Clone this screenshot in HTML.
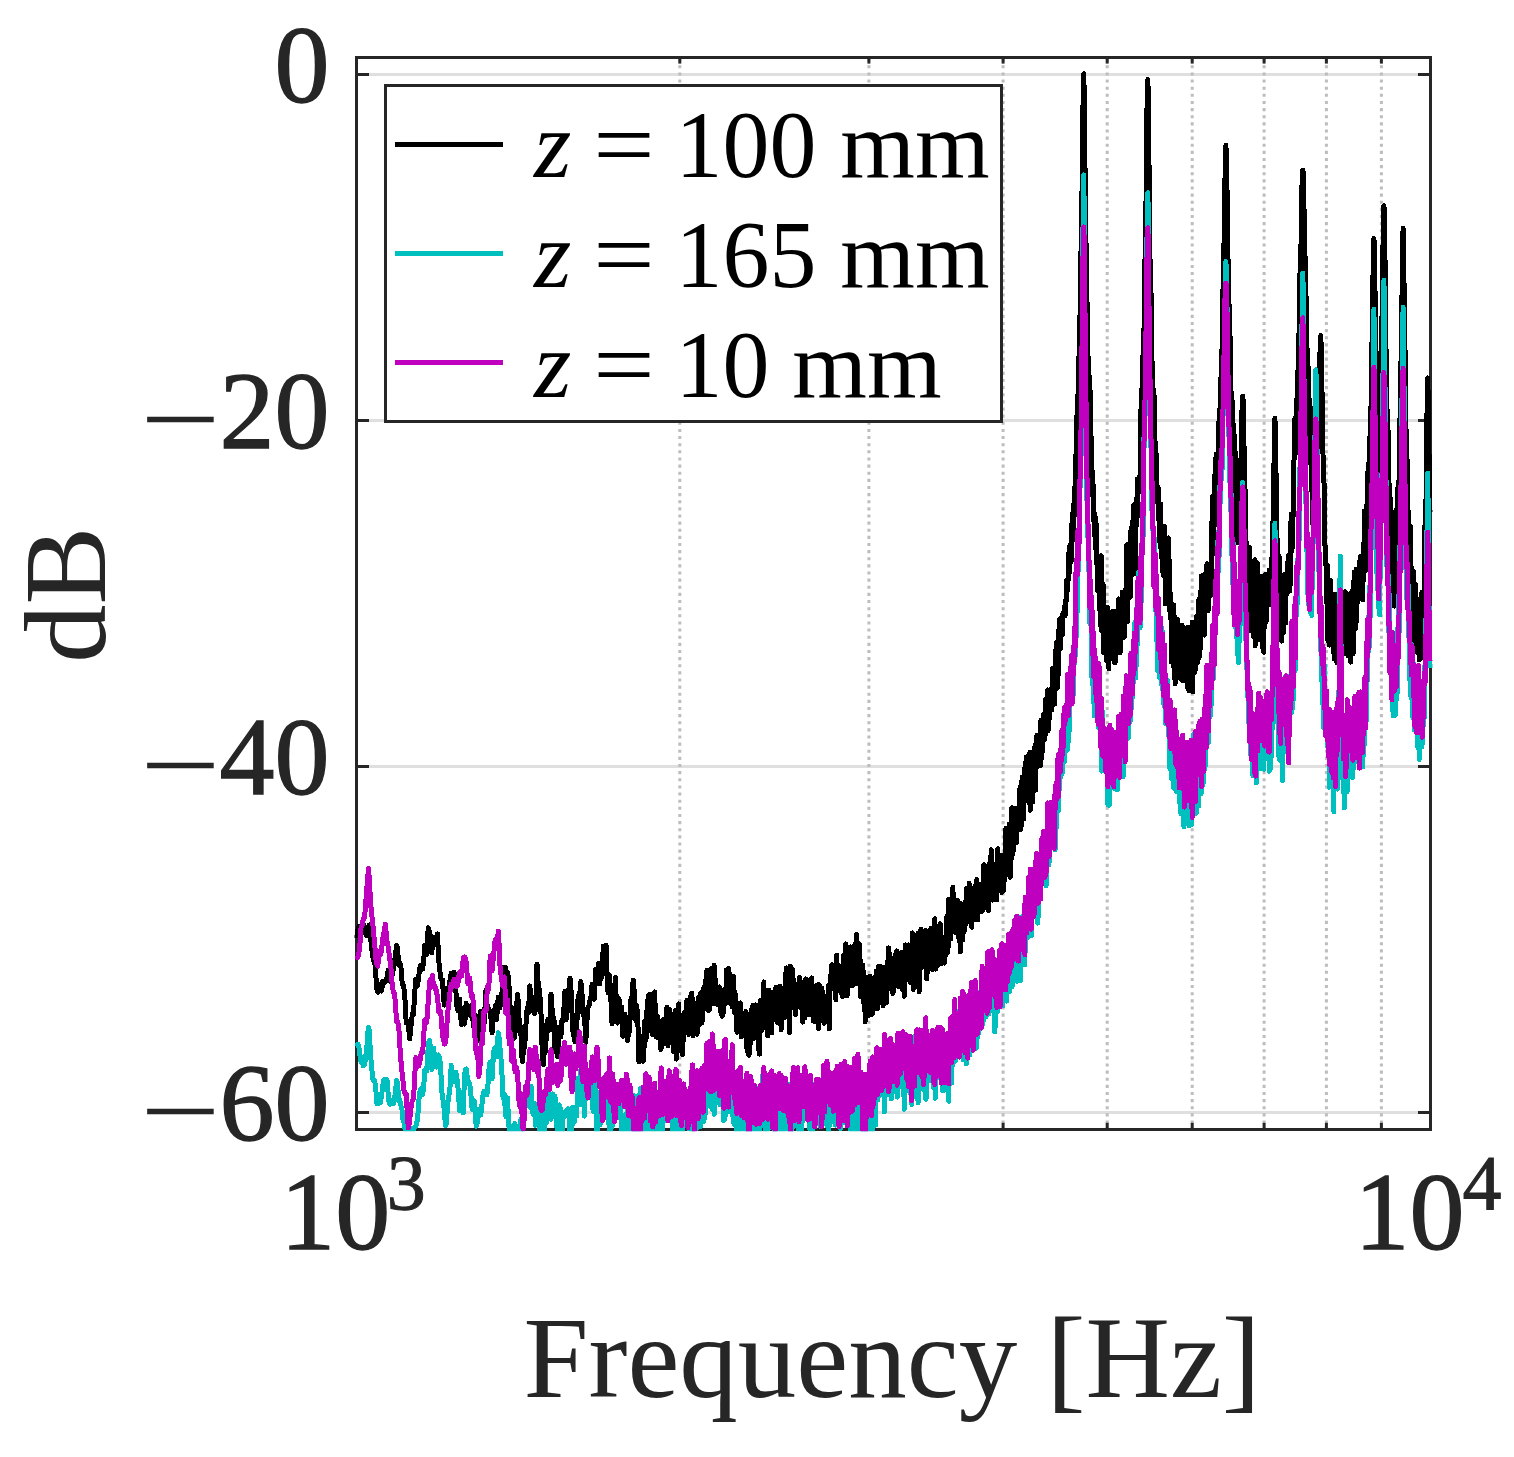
<!DOCTYPE html>
<html lang="en"><head><meta charset="utf-8"><title>Frequency response</title>
<style>html,body{margin:0;padding:0;background:#fff}svg{display:block}text{font-family:"Liberation Serif","DejaVu Serif",serif}</style></head>
<body>
<svg width="1514" height="1457" viewBox="0 0 1514 1457">
<rect x="0" y="0" width="1514" height="1457" fill="#ffffff"/>
<g stroke="#dfdfdf" stroke-width="3" fill="none">
<line x1="356.5" y1="74.5" x2="1430.5" y2="74.5"/>
<line x1="356.5" y1="420.5" x2="1430.5" y2="420.5"/>
<line x1="356.5" y1="766.5" x2="1430.5" y2="766.5"/>
<line x1="356.5" y1="1112.5" x2="1430.5" y2="1112.5"/>
</g>
<g stroke="#bdbdbd" stroke-width="3" stroke-dasharray="3.1 4.03" stroke-dashoffset="6.51" fill="none">
<line x1="679.8" y1="57.5" x2="679.8" y2="1129.5"/>
<line x1="868.9" y1="57.5" x2="868.9" y2="1129.5"/>
<line x1="1003.1" y1="57.5" x2="1003.1" y2="1129.5"/>
<line x1="1107.2" y1="57.5" x2="1107.2" y2="1129.5"/>
<line x1="1192.2" y1="57.5" x2="1192.2" y2="1129.5"/>
<line x1="1264.1" y1="57.5" x2="1264.1" y2="1129.5"/>
<line x1="1326.4" y1="57.5" x2="1326.4" y2="1129.5"/>
<line x1="1381.4" y1="57.5" x2="1381.4" y2="1129.5"/>
</g>
<g stroke="#262626" stroke-width="3" fill="none">
<line x1="356.5" y1="74.5" x2="369" y2="74.5"/>
<line x1="1430.5" y1="74.5" x2="1418" y2="74.5"/>
<line x1="356.5" y1="420.5" x2="369" y2="420.5"/>
<line x1="1430.5" y1="420.5" x2="1418" y2="420.5"/>
<line x1="356.5" y1="766.5" x2="369" y2="766.5"/>
<line x1="1430.5" y1="766.5" x2="1418" y2="766.5"/>
<line x1="356.5" y1="1112.5" x2="369" y2="1112.5"/>
<line x1="1430.5" y1="1112.5" x2="1418" y2="1112.5"/>
<line x1="679.8" y1="57.5" x2="679.8" y2="63.6"/>
<line x1="679.8" y1="1129.5" x2="679.8" y2="1122.8"/>
<line x1="868.9" y1="57.5" x2="868.9" y2="63.6"/>
<line x1="868.9" y1="1129.5" x2="868.9" y2="1122.8"/>
<line x1="1003.1" y1="57.5" x2="1003.1" y2="63.6"/>
<line x1="1003.1" y1="1129.5" x2="1003.1" y2="1122.8"/>
<line x1="1107.2" y1="57.5" x2="1107.2" y2="63.6"/>
<line x1="1107.2" y1="1129.5" x2="1107.2" y2="1122.8"/>
<line x1="1192.2" y1="57.5" x2="1192.2" y2="63.6"/>
<line x1="1192.2" y1="1129.5" x2="1192.2" y2="1122.8"/>
<line x1="1264.1" y1="57.5" x2="1264.1" y2="63.6"/>
<line x1="1264.1" y1="1129.5" x2="1264.1" y2="1122.8"/>
<line x1="1326.4" y1="57.5" x2="1326.4" y2="63.6"/>
<line x1="1326.4" y1="1129.5" x2="1326.4" y2="1122.8"/>
<line x1="1381.4" y1="57.5" x2="1381.4" y2="63.6"/>
<line x1="1381.4" y1="1129.5" x2="1381.4" y2="1122.8"/>
</g>
<rect x="356.5" y="57.5" width="1074.0" height="1072.0" fill="none" stroke="#262626" stroke-width="3"/>
<defs><clipPath id="ax"><rect x="354.5" y="57.5" width="1078.0" height="1073.7"/></clipPath></defs>
<g clip-path="url(#ax)" shape-rendering="crispEdges" fill="none" stroke-width="5" stroke-linejoin="round" stroke-linecap="butt">
<path stroke="#000000" d="M356.5,938.2 357.7,931.0 358.8,926.7 360.0,933.6 361.1,932.4 362.3,926.5 363.0,925.7 363.4,924.3 364.6,931.3 365.7,934.2 366.9,935.8 368.0,927.9 369.2,925.0 369.6,925.2 370.3,933.5 371.4,946.4 372.5,954.8 373.7,961.0 374.8,962.4 375.9,977.0 377.0,989.6 377.8,992.3 379.3,984.0 380.4,990.1 381.5,990.9 382.0,988.1 382.6,981.4 383.7,981.8 384.8,982.7 385.9,979.6 387.0,979.9 388.1,970.1 389.1,969.9 390.2,976.4 391.0,982.3 392.4,973.2 393.5,969.4 394.6,961.6 395.6,953.8 396.7,945.3 397.4,947.6 397.8,952.8 398.8,964.5 399.9,962.4 401.0,967.6 402.0,981.2 403.1,986.1 403.5,985.5 404.1,989.4 405.2,1002.0 406.2,1023.0 407.3,1021.4 408.3,1026.7 409.4,1034.2 409.7,1038.8 410.4,1032.2 411.4,1021.5 412.5,1013.5 413.5,1014.1 414.5,997.3 415.6,979.5 415.9,979.3 416.6,983.2 417.6,985.4 418.6,977.5 419.7,968.3 420.7,965.1 421.7,967.4 422.7,968.9 423.7,960.8 424.7,945.3 425.7,953.7 426.7,954.8 427.7,936.1 428.2,927.7 428.7,929.5 429.7,932.4 430.7,937.7 431.7,953.0 432.7,943.5 433.4,938.0 434.7,944.0 435.7,944.3 436.7,937.0 437.5,933.9 438.6,958.9 439.6,968.9 440.6,976.9 441.0,978.9 441.5,979.3 442.5,979.8 443.5,997.0 444.4,1005.2 445.4,995.3 446.4,988.7 447.3,996.3 448.3,994.5 449.0,989.4 450.2,978.0 451.2,973.2 452.1,974.0 453.0,978.0 454.0,972.2 455.0,976.2 455.9,990.7 456.8,1006.0 457.8,1010.5 458.7,1006.3 459.6,999.1 460.6,1015.3 461.5,1025.0 462.4,1016.8 463.2,1014.2 464.3,1024.1 465.2,1019.2 466.1,1003.2 467.1,1007.9 468.0,1011.6 468.9,1014.2 469.8,1015.3 470.7,1006.3 471.6,1005.0 472.6,1019.7 473.0,1020.5 473.5,1023.5 474.4,1031.2 475.3,1025.2 476.2,1015.6 477.1,1029.8 478.0,1040.4 478.7,1036.2 479.8,1021.9 480.7,1011.1 481.6,1015.9 482.4,1028.7 483.3,1025.1 484.2,1023.2 485.1,1005.1 485.9,990.5 486.9,1003.5 487.8,1006.7 488.6,1008.6 489.5,1010.8 490.4,1014.5 491.3,1021.7 492.1,1033.1 493.0,1017.8 493.9,1010.9 494.7,1010.2 495.6,1005.6 496.5,1019.6 497.3,1010.5 498.2,997.1 499.1,1002.4 499.9,1008.1 500.8,1001.2 501.6,994.8 502.5,988.9 503.3,980.6 504.2,967.1 505.0,967.1 505.4,967.6 505.9,978.7 506.7,978.0 507.6,972.5 508.4,978.6 509.3,989.5 510.0,1004.5 510.9,1017.7 511.8,1008.1 512.6,1020.6 513.4,1039.2 514.3,1037.5 514.7,1033.1 515.1,1020.8 515.9,1014.4 516.8,1003.2 517.6,994.6 518.4,1003.5 519.2,1022.4 520.1,1033.9 520.9,1027.0 521.7,1046.4 522.0,1058.1 522.5,1061.8 523.3,1051.8 524.1,1048.1 525.0,1040.8 525.8,1028.3 526.6,1012.9 527.4,1007.7 528.2,1012.9 529.0,1001.2 529.8,985.8 530.6,993.9 531.2,998.6 532.2,1004.8 533.0,1005.7 533.8,1012.0 534.6,1013.9 535.0,1010.8 535.4,1011.1 536.2,990.9 537.0,964.2 537.8,978.3 538.4,985.3 539.4,990.0 540.1,998.2 540.9,1010.8 541.7,1033.1 542.5,1062.7 543.3,1064.5 544.1,1049.4 544.8,1053.1 545.6,1049.9 546.4,1032.4 547.2,1020.6 547.9,1019.5 548.7,1025.1 549.5,1030.3 550.3,1013.1 551.0,994.2 551.8,1003.7 552.6,1020.3 553.3,1017.0 554.1,1020.8 554.9,1048.2 555.6,1051.5 555.9,1045.9 556.4,1037.7 557.1,1042.7 557.9,1057.1 558.7,1037.6 559.4,1027.0 560.2,1035.7 560.9,1036.8 561.7,1021.7 562.4,1019.3 563.0,1021.3 563.9,1010.4 564.7,991.5 565.4,1011.9 566.2,1019.7 566.9,1002.0 567.6,990.1 568.4,999.7 569.1,997.0 569.9,978.0 570.3,979.3 570.6,982.8 571.3,994.9 572.1,1015.1 572.8,1031.5 573.5,1031.8 574.3,1040.1 575.0,1041.6 575.7,1040.0 576.5,1027.8 577.2,1017.0 577.9,999.9 578.5,995.0 579.4,1004.0 580.1,989.3 580.8,981.6 581.5,986.3 582.2,997.4 583.0,1014.1 583.7,1016.3 584.4,1010.7 585.1,1028.6 585.8,1042.4 586.5,1027.8 586.8,1022.1 587.2,1017.8 588.0,1007.6 588.7,1005.9 589.4,1005.2 590.1,999.2 590.8,999.3 591.5,988.1 592.2,984.1 592.9,991.1 593.6,996.6 594.3,999.2 595.0,986.8 595.7,969.4 596.4,973.1 597.1,982.8 597.8,972.8 598.5,963.1 599.2,982.0 599.9,983.9 600.6,966.3 601.3,966.1 601.9,977.4 602.6,961.7 603.3,946.0 604.0,961.5 604.7,968.9 605.4,950.8 606.1,945.0 606.3,948.1 606.7,967.6 607.4,985.2 608.1,992.8 608.8,987.8 609.5,975.0 610.1,984.1 610.8,993.8 611.5,1019.8 612.2,1023.7 612.8,1005.5 613.5,1006.0 614.2,1016.3 614.8,998.8 615.5,977.5 616.2,1000.3 616.9,1019.5 617.5,1023.0 618.2,1016.3 618.9,998.7 619.5,1001.8 620.0,1015.7 620.8,1013.5 621.5,1006.8 622.2,1022.0 622.8,1036.3 623.5,1024.1 624.1,1019.5 624.8,1014.2 625.5,1018.7 625.9,1026.5 626.8,1031.7 627.4,1040.6 628.1,1036.6 628.7,1035.1 629.4,1030.4 630.0,1020.2 630.7,1001.4 631.3,997.8 632.0,1004.0 632.6,994.8 633.1,979.9 633.9,987.2 634.5,995.0 635.2,1013.0 635.8,1020.7 636.5,1004.9 637.1,1009.3 637.7,1016.2 638.4,1039.6 639.0,1062.1 639.6,1058.4 640.3,1051.4 640.9,1039.4 641.5,1036.3 642.2,1041.2 642.4,1048.2 642.8,1052.5 643.4,1061.3 644.1,1045.6 644.7,1020.7 645.3,1033.1 646.0,1040.5 646.6,1018.4 647.2,1006.3 647.8,1000.2 648.5,995.8 649.1,998.5 649.7,994.5 650.0,994.3 650.3,996.5 650.9,1014.9 651.6,1030.8 652.2,1034.2 652.8,1023.2 653.4,1006.3 654.0,995.8 654.7,991.8 655.3,1012.7 655.9,1036.8 656.5,1019.8 657.1,1015.5 657.7,1034.2 658.3,1038.0 658.9,1025.2 659.5,1027.0 660.2,1043.1 660.8,1049.6 661.4,1047.3 662.0,1032.4 662.6,1019.8 663.2,1034.7 663.8,1035.3 664.4,1019.1 665.0,1022.2 665.6,1043.8 666.2,1032.2 666.8,1007.3 667.4,1033.6 668.0,1046.1 668.6,1020.3 669.2,1009.3 669.8,1011.3 670.4,1020.3 671.0,1040.7 671.6,1030.4 672.2,1016.0 672.8,1034.4 673.3,1051.5 673.9,1031.9 674.5,1019.1 675.1,1010.7 675.7,1022.9 676.3,1059.1 676.9,1051.6 677.5,1035.4 678.1,1017.1 678.6,1004.0 679.2,1023.8 679.8,1029.3 680.4,1015.6 681.0,1024.1 681.6,1049.4 682.1,1053.1 682.7,1054.5 683.3,1030.0 683.9,1013.3 684.4,1024.9 685.0,1030.2 685.6,1016.0 686.2,1007.2 686.8,1000.4 687.3,1004.0 687.9,1007.6 688.5,1022.6 689.0,1034.5 689.6,1014.0 690.2,997.0 690.8,995.9 691.3,995.4 691.9,993.2 692.5,1010.9 693.0,1035.9 693.6,1016.6 694.2,1010.0 694.7,1028.5 695.3,1031.1 695.9,1016.0 696.4,1016.3 697.0,1034.2 697.5,1019.8 698.1,997.7 698.7,1013.1 699.2,1025.4 699.8,1004.8 700.3,993.6 700.9,992.8 701.5,1005.6 702.0,1022.8 702.6,1005.5 703.1,988.8 703.7,998.3 704.2,1009.1 704.8,987.6 705.3,980.7 705.9,983.1 706.4,979.4 707.0,970.4 707.5,985.1 708.1,1009.2 708.6,1010.5 709.2,1006.1 709.7,1009.6 710.3,1002.8 710.8,976.1 711.4,968.3 711.9,978.2 712.5,989.0 713.0,1004.1 713.5,984.9 714.1,965.1 714.6,986.2 715.2,996.1 715.7,980.3 716.2,988.2 716.8,1004.1 717.3,1004.4 717.9,1002.0 718.4,995.4 718.9,991.4 719.5,987.0 720.0,991.5 720.5,1006.3 721.1,1014.0 721.6,1010.8 722.1,1016.4 722.7,1012.5 723.2,1013.0 723.7,1010.1 724.3,989.4 724.8,989.2 725.3,1003.8 725.8,997.7 726.4,970.2 726.9,982.9 727.4,1002.8 728.0,981.6 728.5,968.5 729.0,972.2 729.5,979.5 730.1,1003.4 730.6,994.9 731.1,978.2 731.6,988.0 732.1,1007.1 732.7,987.3 733.2,976.1 733.7,983.3 734.2,993.8 734.7,1013.3 735.3,1011.4 735.8,995.4 736.3,1008.6 736.8,1031.4 737.3,1032.3 737.8,1023.2 738.4,1005.7 738.9,1006.2 739.4,1030.2 739.9,1024.3 740.4,1002.9 740.9,1013.6 741.4,1036.7 741.9,1028.6 742.5,1018.4 743.0,1028.3 743.5,1034.3 744.0,1019.0 744.5,1017.0 745.0,1034.9 745.5,1027.6 746.0,1011.5 746.5,1034.0 747.0,1048.6 747.5,1049.0 748.0,1053.0 748.5,1054.5 749.0,1055.1 749.5,1050.6 750.0,1044.6 750.5,1041.2 751.0,1018.5 751.5,1009.3 752.0,1024.0 752.5,1027.7 753.0,1005.0 753.5,1014.3 754.0,1038.4 754.5,1024.3 755.0,1005.3 755.5,1004.9 756.0,1010.4 756.5,1024.1 757.0,1030.1 757.5,1012.7 758.0,1017.4 758.5,1042.9 759.0,1050.6 759.5,1054.1 760.0,1020.3 760.5,1000.4 760.9,1023.8 761.4,1030.4 761.9,1003.6 762.4,1008.7 762.9,1027.6 763.4,1008.1 763.9,981.9 764.4,1009.0 764.8,1026.6 765.3,1006.1 765.8,994.8 766.3,996.3 766.8,1008.2 767.3,1031.7 767.8,1035.9 768.2,1030.4 768.7,1004.5 769.2,990.3 769.7,1014.1 770.2,1016.2 770.6,997.4 771.1,1007.6 771.6,1032.9 772.1,1020.2 772.6,997.3 773.0,1013.4 773.5,1015.9 774.0,996.7 774.5,991.7 774.9,1015.5 775.4,1011.3 775.9,986.9 776.4,990.9 776.8,1003.6 777.3,1016.4 777.8,1023.0 778.3,1003.0 778.7,1000.3 779.2,1009.0 779.7,1003.2 780.1,986.1 780.6,1005.3 781.1,1030.0 781.5,1010.8 782.0,996.8 782.5,1008.8 783.0,1012.6 783.4,992.5 783.9,997.4 784.4,1017.7 784.8,1008.0 785.3,991.3 785.7,980.5 786.2,967.9 786.7,973.7 787.1,985.4 787.6,1006.6 788.1,1009.7 788.5,987.3 789.0,1007.8 789.5,1032.7 789.9,994.5 790.4,966.2 790.8,977.5 791.3,977.3 791.8,978.6 792.2,977.0 792.7,969.6 793.1,980.3 793.6,982.6 794.0,981.9 794.5,984.1 794.9,1008.5 795.4,1014.4 795.9,993.7 796.3,992.6 796.8,1006.9 797.2,999.9 797.7,984.3 798.1,999.0 798.6,1005.3 799.0,982.5 799.5,977.3 799.9,998.6 800.4,1007.6 800.8,1007.2 801.3,989.4 801.7,982.1 802.2,1007.6 802.6,1022.1 803.1,990.5 803.5,985.2 804.0,1002.5 804.4,1012.3 804.9,1018.1 805.3,996.7 805.8,978.8 806.2,1000.4 806.7,1011.7 807.1,998.8 807.6,988.9 808.0,980.3 808.5,993.7 808.9,1014.6 809.4,998.1 809.8,981.9 810.3,996.9 810.7,1000.8 811.2,980.9 811.6,977.9 812.1,984.7 812.5,997.6 813.0,1009.4 813.4,1021.1 813.9,1019.5 814.3,995.2 814.8,1002.3 815.2,1021.4 815.7,1006.0 816.1,990.3 816.6,1014.7 817.0,1017.2 817.5,985.0 817.9,996.7 818.4,1028.5 818.8,1004.3 819.3,984.7 819.7,1003.3 820.2,1004.9 820.6,998.9 821.1,993.6 821.5,987.8 822.0,1002.9 822.4,1013.8 822.9,991.8 823.3,999.0 823.8,1022.3 824.2,1023.3 824.7,1013.4 825.1,1001.7 825.6,999.2 826.0,1010.6 826.5,1016.2 826.9,1017.0 827.4,1017.0 827.8,1013.9 828.3,985.7 828.7,998.7 829.2,1029.1 829.6,1007.1 830.1,987.9 830.5,980.6 831.0,974.1 831.4,966.2 831.9,964.9 832.3,968.5 832.8,971.3 833.2,979.8 833.7,988.8 834.1,982.8 834.6,973.2 835.0,971.5 835.5,977.5 835.9,999.6 836.4,974.3 836.8,955.0 837.3,985.9 837.7,990.2 838.2,965.0 838.6,976.2 839.1,986.3 839.5,974.8 840.0,972.1 840.4,988.3 840.9,992.4 841.3,992.8 841.8,992.4 842.2,992.3 842.7,996.6 843.1,968.7 843.6,955.1 844.0,984.2 844.5,992.1 844.9,981.9 845.4,957.2 845.8,943.8 846.3,947.1 846.7,967.7 847.2,995.9 847.6,966.6 848.1,957.7 848.5,984.7 849.0,981.8 849.4,976.9 849.9,986.0 850.3,968.4 850.8,946.9 851.2,963.2 851.7,973.0 852.1,949.0 852.6,964.3 853.0,985.3 853.5,983.3 853.9,979.4 854.4,953.6 854.8,945.8 855.3,943.4 855.7,972.4 856.2,956.7 856.6,934.6 857.1,975.9 857.5,984.0 858.0,948.6 858.4,968.6 858.9,975.8 859.3,943.8 859.8,962.1 860.2,996.5 860.7,960.9 861.1,968.4 861.6,995.1 862.0,995.3 862.5,988.8 862.9,965.3 863.4,983.9 863.8,1003.6 864.3,979.9 864.7,996.1 865.2,1021.6 865.6,1015.3 866.1,1005.0 866.5,987.9 867.0,977.5 867.4,981.7 867.9,1012.3 868.3,1016.0 868.8,1014.5 869.2,987.1 869.7,979.9 870.1,976.2 870.6,983.4 871.0,997.2 871.4,1014.6 871.9,1003.3 872.3,1009.6 872.8,1012.9 873.2,997.7 873.7,997.3 874.1,1009.0 874.6,985.2 875.0,976.8 875.5,1008.8 875.9,983.4 876.4,971.2 876.8,992.0 877.3,1008.8 877.7,1004.8 878.2,967.9 878.6,966.6 879.1,974.6 879.5,973.5 880.0,973.0 880.4,969.2 880.9,966.4 881.3,983.5 881.8,1003.3 882.2,988.4 882.7,990.9 883.1,1005.9 883.6,971.9 884.0,975.8 884.5,988.7 884.9,967.3 885.4,970.8 885.8,997.9 886.3,1002.7 886.7,985.1 887.2,961.8 887.6,982.7 888.1,980.2 888.5,947.8 889.0,951.9 889.4,958.2 889.9,961.4 890.3,978.1 890.8,975.3 891.2,965.7 891.7,989.7 892.1,982.3 892.6,965.2 893.0,993.5 893.5,981.4 893.9,958.4 894.4,986.5 894.8,968.8 895.3,955.4 895.7,985.5 896.2,967.4 896.6,950.9 897.1,957.0 897.5,962.0 898.0,968.6 898.4,964.9 898.9,982.2 899.3,986.6 899.8,984.4 900.2,957.6 900.7,954.5 901.1,958.4 901.6,952.3 902.0,969.6 902.5,989.7 902.9,986.0 903.4,960.4 903.8,962.7 904.3,996.4 904.7,961.9 905.2,944.8 905.6,950.4 906.1,975.2 906.5,977.5 907.0,961.6 907.4,979.4 907.9,966.4 908.3,944.9 908.8,951.0 909.2,949.6 909.7,958.1 910.1,982.4 910.6,981.3 911.0,982.9 911.5,979.9 911.9,947.3 912.4,932.9 912.8,943.5 913.3,989.6 913.7,953.0 914.2,951.5 914.6,981.8 915.1,951.3 915.5,954.9 916.0,957.2 916.4,936.6 916.9,962.6 917.3,961.9 917.8,933.3 918.2,942.9 918.7,976.1 919.1,992.1 919.6,966.7 920.0,945.9 920.5,933.0 920.9,929.3 921.4,958.9 921.8,966.0 922.3,967.2 922.7,952.1 923.2,944.3 923.6,951.1 924.1,956.0 924.5,935.3 925.0,933.6 925.4,930.5 925.9,930.5 926.3,969.1 926.8,979.0 927.2,969.9 927.7,937.6 928.1,958.3 928.6,954.5 929.0,936.8 929.5,932.9 929.9,959.0 930.4,961.8 930.8,928.3 931.3,954.5 931.7,948.0 932.2,937.6 932.6,969.8 933.1,940.6 933.5,948.5 934.0,958.5 934.4,931.1 934.9,918.7 935.3,938.7 935.8,969.1 936.2,941.0 936.7,955.1 937.1,965.8 937.6,963.0 938.0,930.6 938.5,949.8 938.9,964.5 939.4,959.2 939.8,925.8 940.3,923.7 940.7,935.6 941.2,961.7 941.6,963.7 942.1,942.3 942.5,937.1 943.0,954.9 943.4,948.6 943.9,959.8 944.3,963.2 944.8,958.1 945.2,955.3 945.7,952.6 946.1,946.3 946.6,938.6 947.0,915.6 947.5,942.6 947.9,952.5 948.4,934.4 948.8,899.0 949.3,933.8 949.7,923.0 950.2,912.9 950.6,939.3 951.1,912.2 951.5,925.2 952.0,927.0 952.4,896.4 952.9,887.3 953.3,902.3 953.8,910.1 954.2,900.9 954.7,902.1 955.1,925.4 955.6,932.5 956.0,928.1 956.5,902.1 956.9,918.2 957.4,907.0 957.8,900.6 958.3,904.4 958.7,934.4 959.2,941.5 959.6,918.0 960.1,910.7 960.5,952.0 961.0,903.6 961.4,929.7 961.9,926.5 962.3,906.1 962.8,940.2 963.2,909.4 963.7,920.6 964.1,932.0 964.6,926.6 965.0,901.6 965.5,925.0 965.9,908.0 966.4,888.7 966.8,889.0 967.3,920.9 967.7,900.9 968.2,898.5 968.6,900.5 969.1,883.1 969.5,921.0 970.0,900.7 970.4,908.0 970.9,923.7 971.3,892.6 971.8,927.3 972.2,900.0 972.7,910.5 973.1,918.0 973.6,892.9 974.0,920.0 974.5,887.4 974.9,892.5 975.3,909.1 975.8,886.0 976.2,882.4 976.7,879.7 977.1,911.6 977.6,920.0 978.0,885.4 978.5,902.0 978.9,884.6 979.4,897.7 979.8,893.8 980.3,889.1 980.7,911.8 981.2,884.7 981.6,896.1 982.1,891.4 982.5,894.2 983.0,910.5 983.4,901.4 983.9,864.6 984.3,890.3 984.8,893.4 985.2,877.9 985.7,901.2 986.1,901.1 986.6,904.2 987.0,885.9 987.5,867.2 987.9,873.7 988.4,910.5 988.8,864.3 989.3,889.1 989.7,874.1 990.2,870.5 990.6,878.8 991.1,849.7 991.5,889.3 992.0,895.0 992.4,894.7 992.9,900.1 993.3,892.4 993.8,865.2 994.2,894.9 994.7,864.9 995.1,880.9 995.6,886.3 996.0,882.7 996.5,886.5 996.9,899.9 997.4,856.1 997.8,848.7 998.3,866.0 998.7,867.2 999.2,854.7 999.6,885.7 1000.1,865.0 1000.5,876.3 1001.0,861.9 1001.4,869.8 1001.9,892.5 1002.3,890.1 1002.8,855.1 1003.2,891.3 1003.7,856.8 1004.1,867.8 1004.6,880.4 1005.0,877.9 1005.5,864.8 1005.9,828.5 1006.4,838.4 1006.8,835.2 1007.3,865.3 1007.7,848.3 1008.2,832.7 1008.6,850.8 1009.1,824.3 1009.5,824.1 1010.0,870.4 1010.4,877.3 1010.9,869.5 1011.3,837.1 1011.8,807.6 1012.2,818.9 1012.7,854.4 1013.1,813.7 1013.6,850.2 1014.0,823.7 1014.5,821.2 1014.9,820.2 1015.4,808.1 1015.8,808.2 1016.3,842.8 1016.7,821.7 1017.2,810.7 1017.6,823.5 1018.1,818.5 1018.5,820.4 1019.0,814.5 1019.4,790.0 1019.9,810.1 1020.3,830.0 1020.8,786.1 1021.2,826.7 1021.7,790.9 1022.1,777.2 1022.6,798.9 1023.0,817.6 1023.5,819.0 1023.9,802.8 1024.4,768.4 1024.8,794.0 1025.3,765.5 1025.7,768.3 1026.2,757.0 1026.6,756.8 1027.1,787.1 1027.5,791.0 1028.0,764.8 1028.4,764.4 1028.9,802.7 1029.3,797.4 1029.8,752.3 1030.2,810.4 1030.7,769.8 1031.1,784.0 1031.6,767.2 1032.0,756.9 1032.5,784.9 1032.9,802.0 1033.4,758.5 1033.8,755.2 1034.3,784.4 1034.7,748.8 1035.2,744.9 1035.6,790.1 1036.1,763.8 1036.5,737.4 1037.0,735.6 1037.4,761.5 1037.9,766.0 1038.3,758.2 1038.8,761.8 1039.2,735.1 1039.7,765.6 1040.1,734.1 1040.6,765.5 1041.0,720.3 1041.5,758.6 1041.9,728.8 1042.4,752.3 1042.8,739.7 1043.3,714.5 1043.7,736.1 1044.2,740.0 1044.6,733.9 1045.1,735.5 1045.5,699.1 1046.0,730.3 1046.4,698.9 1046.9,720.5 1047.3,692.8 1047.8,690.0 1048.2,730.7 1048.7,726.5 1049.1,698.6 1049.6,718.7 1050.0,692.3 1050.5,697.0 1050.9,688.8 1051.4,692.3 1051.8,709.8 1052.3,694.1 1052.7,668.0 1053.2,685.4 1053.6,699.3 1054.1,683.8 1054.5,704.2 1055.0,676.5 1055.4,650.7 1055.9,689.5 1056.3,643.4 1056.8,645.7 1057.2,688.0 1057.7,677.9 1058.1,631.3 1058.6,673.9 1059.0,631.8 1059.5,648.5 1059.9,618.8 1060.4,649.3 1060.8,621.4 1061.3,633.3 1061.7,617.6 1062.2,635.4 1062.6,615.5 1063.1,612.9 1063.5,614.9 1064.0,615.0 1064.4,606.5 1064.9,616.1 1065.3,614.7 1065.8,599.6 1066.2,601.5 1066.7,580.1 1067.1,591.4 1067.6,580.8 1068.0,582.1 1068.5,553.6 1068.9,564.5 1069.4,572.4 1069.8,545.2 1070.3,562.7 1070.7,545.1 1071.2,561.8 1071.6,524.7 1072.1,541.8 1072.5,513.4 1073.0,536.5 1073.4,505.0 1073.9,525.9 1074.3,494.4 1074.8,504.6 1075.2,470.8 1075.7,474.7 1076.1,449.0 1076.6,454.1 1077.0,415.0 1077.5,430.0 1077.9,394.3 1078.4,395.2 1078.8,356.4 1079.2,357.1 1079.7,316.1 1080.1,329.2 1080.6,301.8 1081.0,250.6 1081.5,243.5 1081.9,199.2 1082.4,166.5 1082.8,120.3 1083.3,84.5 1083.7,73.7 1084.2,91.7 1084.6,133.9 1085.1,175.6 1085.5,217.3 1086.0,242.2 1086.4,257.8 1086.9,297.0 1087.3,314.8 1087.8,349.4 1088.2,362.1 1088.7,390.1 1089.1,375.3 1089.6,396.0 1090.0,388.3 1090.5,427.8 1090.9,422.4 1091.4,483.2 1091.8,459.3 1092.3,485.6 1092.7,471.6 1093.2,511.6 1093.6,485.4 1094.1,529.8 1094.5,535.3 1095.0,514.3 1095.4,548.3 1095.9,522.1 1096.3,525.5 1096.8,545.2 1097.2,582.1 1097.7,590.6 1098.1,560.7 1098.6,572.1 1099.0,570.1 1099.5,557.4 1099.9,607.2 1100.4,625.1 1100.8,584.3 1101.3,555.7 1101.7,631.4 1102.2,623.3 1102.6,611.7 1103.1,584.3 1103.5,652.4 1104.0,645.2 1104.4,627.3 1104.9,615.4 1105.3,628.3 1105.8,633.0 1106.2,659.3 1106.7,661.2 1107.1,627.6 1107.6,607.5 1108.0,624.6 1108.5,650.3 1108.9,669.0 1109.4,612.1 1109.8,653.2 1110.3,629.0 1110.7,651.5 1111.2,622.5 1111.6,625.0 1112.1,629.3 1112.5,641.8 1113.0,610.9 1113.4,659.5 1113.9,620.9 1114.3,661.7 1114.8,661.3 1115.2,662.7 1115.7,639.6 1116.1,628.3 1116.6,629.5 1117.0,640.9 1117.5,653.3 1117.9,609.8 1118.4,634.4 1118.8,598.8 1119.3,638.4 1119.7,618.0 1120.2,652.7 1120.6,626.7 1121.1,617.3 1121.5,615.5 1122.0,631.0 1122.4,592.3 1122.9,634.4 1123.3,592.7 1123.8,627.1 1124.2,637.3 1124.7,596.4 1125.1,589.8 1125.6,601.0 1126.0,606.6 1126.5,565.2 1126.9,544.7 1127.4,621.7 1127.8,603.3 1128.3,557.8 1128.7,581.0 1129.2,543.5 1129.6,546.2 1130.1,597.4 1130.5,550.6 1131.0,530.3 1131.4,576.3 1131.9,527.6 1132.3,521.6 1132.8,539.9 1133.2,529.4 1133.7,504.7 1134.1,550.7 1134.6,548.2 1135.0,573.4 1135.5,533.3 1135.9,507.8 1136.4,498.6 1136.8,524.7 1137.3,479.0 1137.7,516.1 1138.2,481.4 1138.6,482.0 1139.1,481.5 1139.5,486.6 1140.0,476.4 1140.4,419.6 1140.9,409.0 1141.3,442.4 1141.8,400.9 1142.2,377.2 1142.7,378.2 1143.1,348.8 1143.6,363.8 1144.0,329.8 1144.5,277.2 1144.9,266.3 1145.4,234.5 1145.8,213.8 1146.3,184.4 1146.7,129.8 1147.2,96.3 1147.7,79.5 1148.1,88.2 1148.5,120.0 1149.0,163.2 1149.4,190.1 1149.9,250.1 1150.3,281.9 1150.8,306.7 1151.2,293.3 1151.7,302.5 1152.1,377.8 1152.6,369.2 1153.0,397.7 1153.5,389.8 1153.9,417.3 1154.4,395.8 1154.8,439.5 1155.3,443.6 1155.7,450.6 1156.2,484.9 1156.6,454.5 1157.1,502.4 1157.5,497.3 1158.0,486.8 1158.4,519.4 1158.9,489.4 1159.3,541.6 1159.8,510.5 1160.2,547.2 1160.7,504.2 1161.1,556.9 1161.6,555.2 1162.0,545.9 1162.5,571.3 1162.9,530.2 1163.4,575.4 1163.8,542.7 1164.3,562.4 1164.7,526.6 1165.2,604.1 1165.6,541.2 1166.1,579.8 1166.5,556.7 1167.0,584.5 1167.4,604.0 1167.9,585.8 1168.3,537.8 1168.8,577.0 1169.2,559.7 1169.7,610.7 1170.1,592.8 1170.6,597.0 1171.0,620.0 1171.5,662.2 1171.9,630.6 1172.4,604.2 1172.8,633.5 1173.3,666.1 1173.7,604.8 1174.2,621.6 1174.6,660.8 1175.1,683.7 1175.5,618.7 1176.0,640.0 1176.4,647.5 1176.9,633.2 1177.3,645.5 1177.8,619.5 1178.2,646.7 1178.7,636.3 1179.1,652.5 1179.6,639.2 1180.0,662.7 1180.5,633.4 1180.9,679.2 1181.4,658.6 1181.8,655.1 1182.2,625.3 1182.7,680.5 1183.1,656.4 1183.6,646.7 1184.0,680.3 1184.5,630.8 1184.9,662.2 1185.4,672.7 1185.8,628.8 1186.3,671.2 1186.7,665.2 1187.2,687.2 1187.6,627.2 1188.1,684.4 1188.5,688.1 1189.0,690.5 1189.4,654.8 1189.9,658.0 1190.3,673.8 1190.8,636.2 1191.2,653.0 1191.7,679.9 1192.1,622.4 1192.6,692.0 1193.0,646.9 1193.5,649.7 1193.9,673.5 1194.4,648.8 1194.8,671.8 1195.3,668.9 1195.7,668.1 1196.2,633.7 1196.6,616.5 1197.1,663.3 1197.5,663.0 1198.0,626.1 1198.4,647.2 1198.9,599.0 1199.3,657.6 1199.8,608.8 1200.2,642.7 1200.7,648.3 1201.1,576.2 1201.6,582.1 1202.0,577.2 1202.5,617.1 1202.9,575.0 1203.4,594.1 1203.8,607.1 1204.3,635.2 1204.7,581.5 1205.2,574.4 1205.6,592.3 1206.1,580.9 1206.5,609.9 1207.0,563.7 1207.4,566.4 1207.9,592.1 1208.3,610.5 1208.8,593.1 1209.2,597.7 1209.7,582.7 1210.1,576.5 1210.6,563.7 1211.0,595.4 1211.5,523.0 1211.9,543.0 1212.4,554.4 1212.8,496.4 1213.3,535.9 1213.7,538.4 1214.2,520.5 1214.6,515.8 1215.1,465.9 1215.5,458.4 1216.0,503.5 1216.4,454.2 1216.9,470.7 1217.3,460.7 1217.8,480.1 1218.2,450.7 1218.7,464.6 1219.1,409.8 1219.6,417.3 1220.0,437.4 1220.5,402.0 1220.9,385.2 1221.4,350.9 1221.8,366.7 1222.3,361.1 1222.7,302.3 1223.2,281.5 1223.6,271.8 1224.1,237.2 1224.5,202.9 1225.0,178.2 1225.4,153.9 1225.9,145.1 1226.3,154.0 1226.8,170.9 1227.2,205.7 1227.7,227.5 1228.1,268.8 1228.6,268.7 1229.0,302.3 1229.5,338.2 1229.9,324.0 1230.4,376.4 1230.8,398.7 1231.3,391.6 1231.7,434.0 1232.2,401.0 1232.6,429.6 1233.1,442.3 1233.5,424.9 1234.0,503.5 1234.4,435.4 1234.9,491.0 1235.3,452.0 1235.8,494.0 1236.2,535.2 1236.7,519.6 1237.1,516.9 1237.6,535.2 1238.0,542.7 1238.5,532.1 1238.9,478.2 1239.4,465.5 1239.8,502.9 1240.3,484.5 1240.7,465.0 1241.2,453.3 1241.6,427.7 1242.1,406.2 1242.5,398.3 1242.7,396.2 1243.0,398.2 1243.4,412.6 1243.9,439.1 1244.3,461.6 1244.8,473.5 1245.2,503.8 1245.7,510.4 1246.1,550.2 1246.6,572.0 1247.0,567.8 1247.5,589.8 1247.9,611.8 1248.4,585.7 1248.8,598.3 1249.3,586.9 1249.7,547.6 1250.2,599.9 1250.6,630.9 1251.1,588.8 1251.5,580.8 1252.0,608.8 1252.4,621.5 1252.9,570.8 1253.3,636.5 1253.8,581.2 1254.2,609.5 1254.7,559.7 1255.1,646.1 1255.6,588.4 1256.0,610.8 1256.5,632.2 1256.9,602.5 1257.4,562.9 1257.8,594.9 1258.3,640.0 1258.7,596.8 1259.2,600.3 1259.6,616.6 1260.1,587.8 1260.5,627.8 1261.0,624.5 1261.4,593.5 1261.9,576.2 1262.3,618.7 1262.8,648.2 1263.2,591.6 1263.7,652.3 1264.1,586.8 1264.6,594.4 1265.0,626.8 1265.5,574.2 1265.9,600.0 1266.4,621.0 1266.8,589.2 1267.3,586.0 1267.7,589.2 1268.2,576.9 1268.6,585.1 1269.1,570.1 1269.5,590.9 1270.0,604.6 1270.4,580.9 1270.9,575.2 1271.3,567.4 1271.8,573.7 1272.2,544.5 1272.7,546.3 1273.1,514.0 1273.6,499.6 1274.0,462.9 1274.5,432.7 1274.9,418.1 1275.4,430.2 1275.8,462.2 1276.3,488.1 1276.7,511.0 1277.2,553.1 1277.6,570.5 1278.1,561.4 1278.5,595.7 1279.0,556.4 1279.4,629.8 1279.9,613.4 1280.3,629.0 1280.8,594.8 1281.2,587.7 1281.7,641.2 1282.1,592.8 1282.6,599.3 1283.0,583.6 1283.5,633.0 1283.9,626.4 1284.4,574.7 1284.8,589.4 1285.3,589.4 1285.7,623.1 1286.1,586.1 1286.6,594.8 1287.0,583.7 1287.5,562.8 1287.9,562.5 1288.4,581.0 1288.8,555.0 1289.3,567.9 1289.7,591.2 1290.2,582.9 1290.6,557.4 1291.1,514.0 1291.5,533.4 1292.0,551.3 1292.4,526.4 1292.9,521.2 1293.3,506.9 1293.8,488.4 1294.2,435.6 1294.7,418.5 1295.1,434.1 1295.6,453.6 1296.0,421.5 1296.5,413.5 1296.9,399.9 1297.4,393.5 1297.8,384.0 1298.3,350.2 1298.7,357.7 1299.2,319.3 1299.6,305.7 1300.1,266.1 1300.5,266.0 1301.0,245.3 1301.4,207.1 1301.9,189.3 1302.3,175.4 1302.8,170.1 1303.2,172.4 1303.7,186.4 1304.1,215.9 1304.6,228.6 1305.0,255.6 1305.5,282.2 1305.9,287.2 1306.4,328.2 1306.8,343.9 1307.3,370.0 1307.7,350.0 1308.2,374.6 1308.6,409.3 1309.1,405.8 1309.5,399.0 1310.0,462.8 1310.4,436.5 1310.9,408.3 1311.3,490.2 1311.8,473.9 1312.2,453.3 1312.7,524.3 1313.1,470.4 1313.6,507.0 1314.0,481.8 1314.5,487.8 1314.9,524.0 1315.4,494.3 1315.8,490.5 1316.3,486.2 1316.7,471.1 1317.2,492.5 1317.6,455.5 1318.1,435.5 1318.5,415.8 1319.0,407.4 1319.4,384.4 1319.9,358.3 1320.3,337.5 1320.7,335.6 1320.8,335.6 1321.2,347.4 1321.7,367.3 1322.1,398.6 1322.6,429.5 1323.0,454.3 1323.5,466.7 1323.9,480.5 1324.4,492.4 1324.8,534.0 1325.3,562.0 1325.7,546.8 1326.2,576.3 1326.6,602.8 1327.1,567.9 1327.5,565.1 1328.0,641.2 1328.4,599.3 1328.9,598.5 1329.3,645.2 1329.8,605.3 1330.2,605.8 1330.7,580.6 1331.1,611.3 1331.6,635.5 1332.0,637.5 1332.5,637.6 1332.9,607.6 1333.4,652.3 1333.8,612.7 1334.3,659.1 1334.7,594.1 1335.2,611.5 1335.6,596.5 1336.1,632.2 1336.5,601.9 1337.0,662.5 1337.4,619.5 1337.9,633.2 1338.3,653.1 1338.8,621.7 1339.2,609.2 1339.7,621.1 1340.1,637.8 1340.6,627.2 1341.0,599.7 1341.5,611.8 1341.9,664.7 1342.4,627.5 1342.8,653.6 1343.3,601.3 1343.7,636.3 1344.2,608.7 1344.6,612.8 1345.1,591.7 1345.5,650.1 1346.0,630.1 1346.4,618.5 1346.9,616.7 1347.3,594.3 1347.8,655.5 1348.2,632.9 1348.7,621.2 1349.1,596.6 1349.6,593.9 1350.0,635.9 1350.5,600.6 1350.9,662.2 1351.4,611.0 1351.8,643.5 1352.3,597.9 1352.7,589.6 1353.2,653.9 1353.6,621.6 1354.1,571.9 1354.5,581.8 1355.0,607.4 1355.4,629.1 1355.9,611.4 1356.3,569.2 1356.8,620.9 1357.2,589.7 1357.7,578.3 1358.1,589.5 1358.6,591.4 1359.0,585.3 1359.5,561.8 1359.9,597.3 1360.4,556.5 1360.8,563.3 1361.3,577.4 1361.7,590.8 1362.2,597.8 1362.6,599.9 1363.1,578.2 1363.5,543.2 1364.0,547.6 1364.4,511.3 1364.9,552.2 1365.3,512.1 1365.8,525.0 1366.2,549.2 1366.7,570.2 1367.1,487.3 1367.6,507.7 1368.0,471.8 1368.5,463.9 1368.9,501.1 1369.4,437.7 1369.8,462.7 1370.3,456.9 1370.7,406.8 1371.2,405.7 1371.6,368.5 1372.1,337.4 1372.5,314.5 1373.0,275.9 1373.4,253.0 1373.9,238.5 1374.3,244.3 1374.8,272.0 1375.2,308.4 1375.7,336.7 1376.1,355.2 1376.6,372.7 1377.0,389.8 1377.5,402.4 1377.9,439.8 1378.4,477.6 1378.8,435.2 1379.3,413.8 1379.7,433.8 1380.2,393.7 1380.6,389.1 1381.1,376.4 1381.5,369.6 1382.0,317.1 1382.4,285.5 1382.9,254.7 1383.3,223.4 1383.8,207.1 1383.9,205.8 1384.2,208.3 1384.7,233.2 1385.1,267.5 1385.6,319.7 1386.0,348.6 1386.5,367.5 1386.9,408.6 1387.4,411.7 1387.8,415.3 1388.3,451.0 1388.7,473.3 1389.2,488.5 1389.6,492.8 1390.0,495.0 1390.5,539.4 1390.9,580.9 1391.4,533.6 1391.8,527.7 1392.3,534.1 1392.7,526.4 1393.2,516.7 1393.6,531.7 1394.1,606.2 1394.5,600.9 1395.0,538.8 1395.4,582.4 1395.9,510.3 1396.3,516.5 1396.8,542.3 1397.2,557.3 1397.7,505.5 1398.1,482.1 1398.6,519.2 1399.0,502.9 1399.5,434.3 1399.9,427.3 1400.4,390.0 1400.8,371.9 1401.3,346.4 1401.7,320.4 1402.2,280.7 1402.6,243.4 1403.1,228.2 1403.5,241.2 1404.0,280.9 1404.4,327.5 1404.9,339.4 1405.3,378.9 1405.8,414.9 1406.2,440.7 1406.7,455.0 1407.1,459.8 1407.6,493.7 1408.0,509.0 1408.5,530.2 1408.9,532.6 1409.4,541.0 1409.8,542.2 1410.3,526.0 1410.7,579.6 1411.2,567.0 1411.6,592.6 1412.1,601.2 1412.5,615.4 1413.0,612.7 1413.4,571.1 1413.9,625.7 1414.3,583.1 1414.8,643.6 1415.2,584.0 1415.7,612.7 1416.1,597.2 1416.6,609.0 1417.0,635.0 1417.5,652.5 1417.9,647.7 1418.4,599.4 1418.8,647.2 1419.3,659.8 1419.7,606.9 1420.2,634.9 1420.6,658.3 1421.1,629.6 1421.5,621.9 1422.0,592.2 1422.4,603.1 1422.9,636.0 1423.3,623.2 1423.8,600.2 1424.2,584.7 1424.7,558.4 1425.1,515.9 1425.6,500.1 1426.0,502.7 1426.5,449.4 1426.9,421.4 1427.4,386.8 1427.7,377.8 1427.8,380.2 1428.3,402.4 1428.7,435.2 1429.2,465.1 1429.6,499.0 1430.1,512.4"/>
<path stroke="#00bfbf" d="M356.5,1046.3 357.7,1044.2 358.8,1046.5 360.0,1055.3 361.1,1062.2 362.3,1060.0 363.4,1065.9 364.6,1064.6 365.7,1056.2 366.9,1047.0 368.0,1031.6 368.5,1027.2 369.2,1030.6 370.3,1049.7 371.4,1065.8 372.5,1075.0 373.0,1079.5 373.7,1079.4 374.8,1081.4 375.9,1091.0 377.0,1103.6 378.1,1103.6 378.8,1103.4 379.3,1100.3 380.4,1102.3 381.5,1096.5 382.6,1087.0 383.7,1079.9 384.8,1079.3 385.9,1081.7 387.0,1079.6 388.1,1093.3 389.1,1103.1 390.0,1104.3 391.3,1100.2 392.4,1101.9 393.5,1103.3 394.6,1098.9 395.6,1090.4 396.7,1080.4 397.4,1082.8 397.8,1086.8 398.8,1101.0 399.9,1100.4 401.0,1106.1 402.0,1109.6 403.1,1121.4 403.5,1121.5 404.1,1122.0 405.2,1130.0 406.2,1140.3 407.3,1140.7 408.3,1139.5 409.4,1133.0 410.0,1130.8 410.4,1134.1 411.4,1132.5 412.5,1134.8 413.5,1128.0 414.5,1127.5 415.6,1126.7 416.6,1123.5 417.6,1118.7 418.0,1113.4 418.6,1102.9 419.7,1092.7 420.7,1088.9 421.7,1090.5 422.7,1094.3 423.7,1086.9 424.7,1070.5 425.7,1069.5 426.7,1071.1 427.7,1054.4 428.7,1041.9 429.3,1041.2 429.7,1040.7 430.7,1052.6 431.7,1069.4 432.7,1057.4 433.7,1048.3 434.7,1061.6 435.7,1067.0 436.7,1067.1 437.6,1064.0 438.5,1055.0 439.6,1057.3 440.6,1066.8 441.5,1084.6 442.0,1093.1 442.5,1096.4 443.5,1102.9 444.4,1111.3 445.4,1125.5 446.4,1124.1 447.3,1108.9 448.3,1099.2 449.0,1094.9 450.2,1085.7 451.2,1065.3 452.1,1074.0 453.0,1078.0 454.0,1081.3 455.0,1079.6 455.9,1072.3 456.8,1077.4 457.8,1084.7 458.7,1097.4 459.6,1111.0 460.6,1100.0 461.5,1100.2 462.4,1111.4 463.2,1112.9 464.3,1082.2 465.2,1069.5 466.1,1069.0 467.1,1075.5 468.0,1081.7 468.9,1082.1 469.8,1084.5 470.7,1092.6 471.6,1101.4 472.0,1107.4 472.6,1109.8 473.5,1108.4 474.4,1101.0 475.3,1113.1 476.2,1126.2 477.1,1123.1 477.6,1118.9 478.0,1111.9 478.9,1109.4 479.8,1110.9 480.7,1115.2 481.6,1109.3 482.4,1099.5 483.3,1093.4 484.2,1091.1 485.0,1093.8 486.0,1091.9 486.9,1094.9 487.8,1088.3 488.6,1073.0 489.5,1063.9 490.4,1061.9 491.3,1064.4 492.0,1078.9 493.0,1062.7 493.9,1050.3 494.7,1047.9 495.6,1050.7 496.5,1056.4 497.3,1049.3 498.2,1032.8 499.1,1037.7 499.9,1047.4 500.8,1056.9 501.6,1066.0 502.5,1085.7 503.0,1096.8 503.3,1098.3 504.2,1094.1 505.0,1106.1 505.9,1116.7 506.7,1111.7 507.6,1097.9 508.4,1118.6 509.3,1131.1 510.1,1136.4 510.9,1139.2 511.8,1127.4 512.6,1126.2 513.4,1138.4 514.3,1133.8 515.0,1123.5 515.9,1137.3 516.8,1147.3 517.6,1147.3 518.4,1147.7 519.2,1150.5 520.1,1141.0 520.9,1119.0 521.7,1122.7 522.5,1134.5 523.0,1124.0 523.3,1117.4 524.1,1106.4 525.0,1107.5 525.8,1105.9 526.6,1096.6 527.4,1094.2 528.2,1097.7 529.0,1104.3 529.8,1107.3 530.6,1099.4 531.2,1086.4 532.2,1109.9 533.0,1114.1 533.8,1103.2 534.6,1108.6 535.4,1125.3 536.2,1120.2 537.0,1104.0 537.8,1113.3 538.6,1120.0 539.4,1129.8 540.1,1128.0 540.9,1112.2 541.7,1118.7 542.5,1140.0 543.3,1143.6 544.1,1143.7 544.8,1121.3 545.6,1106.9 546.4,1122.5 547.2,1117.6 547.9,1100.1 548.7,1092.3 549.5,1101.4 550.3,1109.4 551.0,1119.3 551.8,1103.4 552.6,1093.9 553.3,1110.6 554.1,1113.0 554.9,1096.0 555.6,1102.3 556.4,1121.4 557.1,1128.9 557.9,1132.1 558.7,1116.4 559.4,1105.0 560.0,1107.3 560.9,1115.5 561.7,1130.0 562.4,1130.1 563.2,1115.2 563.9,1113.0 564.7,1114.3 565.4,1114.0 566.2,1110.6 566.9,1111.8 567.6,1111.0 568.4,1108.7 569.1,1118.9 569.9,1137.1 570.6,1141.1 571.3,1140.7 572.1,1124.5 572.4,1116.7 572.8,1107.1 573.5,1118.6 574.3,1122.4 575.0,1109.7 575.7,1111.0 576.5,1116.3 577.2,1102.6 577.9,1078.2 578.6,1095.3 579.4,1104.6 580.1,1077.0 580.6,1070.4 581.5,1100.4 582.2,1102.6 583.0,1082.8 583.7,1098.0 584.4,1116.2 585.1,1099.0 585.8,1086.3 586.5,1093.3 587.0,1096.4 587.2,1093.9 588.0,1091.7 588.7,1083.2 589.4,1088.2 590.1,1088.7 590.8,1087.9 591.5,1087.9 592.2,1092.3 592.9,1109.4 593.6,1111.7 594.3,1089.4 595.0,1083.5 595.7,1084.6 596.4,1107.9 597.1,1136.4 597.8,1110.2 598.5,1092.1 599.2,1111.0 599.9,1124.8 600.6,1121.8 601.3,1113.8 601.9,1096.4 602.6,1098.6 603.3,1106.9 604.0,1101.1 604.7,1097.8 605.3,1077.0 606.1,1083.2 606.7,1101.1 607.4,1105.4 608.1,1096.5 608.8,1115.5 609.4,1142.5 610.1,1131.7 610.8,1120.2 611.5,1127.8 612.2,1126.2 612.8,1104.2 613.5,1098.7 614.2,1096.3 614.8,1104.2 615.5,1118.7 616.2,1101.2 616.9,1088.5 617.5,1095.7 618.2,1106.2 618.9,1118.0 619.5,1113.8 620.2,1100.7 620.8,1108.2 621.5,1130.1 622.2,1120.0 622.8,1116.1 623.5,1133.2 624.1,1132.4 624.8,1114.9 625.5,1120.8 626.0,1141.5 626.8,1127.7 627.4,1109.2 628.1,1106.6 628.7,1110.8 629.4,1127.8 630.0,1141.1 630.7,1140.5 631.3,1139.2 632.0,1139.9 632.6,1118.9 633.2,1095.4 633.9,1116.1 634.5,1128.0 635.0,1115.0 635.8,1096.5 636.5,1097.0 637.1,1114.8 637.7,1132.2 638.4,1130.9 639.0,1113.9 639.6,1100.7 640.3,1088.5 640.9,1100.8 641.5,1104.4 642.2,1103.7 642.8,1103.7 643.4,1103.2 644.1,1122.0 644.7,1148.7 645.3,1128.2 646.0,1115.3 646.6,1128.5 647.2,1131.5 647.8,1108.9 648.5,1122.5 649.1,1148.2 649.7,1125.6 650.0,1107.9 650.3,1091.4 650.9,1116.5 651.6,1129.0 652.2,1113.1 652.8,1112.8 653.4,1134.1 654.0,1125.4 654.7,1109.0 655.3,1122.3 655.9,1146.0 656.5,1142.7 657.1,1135.5 657.7,1116.7 658.3,1112.5 658.9,1127.6 659.5,1135.0 660.2,1133.6 660.8,1133.1 661.4,1133.6 662.0,1131.3 662.6,1132.2 663.2,1105.3 663.8,1092.4 664.4,1092.9 665.0,1102.4 665.6,1120.9 666.2,1110.6 666.8,1086.6 667.4,1099.1 668.0,1100.5 668.6,1091.0 669.2,1091.5 669.8,1109.9 670.4,1111.6 671.0,1089.3 671.6,1104.4 672.2,1127.6 672.8,1132.2 673.3,1129.1 673.9,1106.4 674.5,1104.5 675.1,1129.5 675.7,1125.9 676.3,1107.4 676.9,1125.3 677.5,1143.7 678.1,1142.2 678.6,1133.9 679.2,1102.2 679.8,1090.6 680.4,1097.4 681.0,1110.9 681.6,1135.6 682.1,1134.9 682.7,1135.3 683.3,1113.8 683.9,1098.8 684.4,1119.7 685.0,1124.6 685.6,1103.5 686.2,1107.0 686.8,1115.7 687.3,1103.6 687.9,1091.0 688.5,1111.8 689.0,1128.5 689.6,1105.5 690.2,1093.3 690.8,1087.1 691.3,1105.1 691.9,1135.4 692.5,1135.5 693.0,1127.7 693.6,1107.5 694.2,1097.7 694.7,1123.1 695.3,1129.0 695.9,1097.7 696.4,1104.9 697.0,1128.2 697.5,1113.5 698.1,1087.8 698.7,1109.5 699.2,1125.6 699.8,1126.6 700.3,1126.6 700.9,1123.9 701.5,1116.3 702.0,1086.4 702.6,1101.1 703.1,1119.5 703.7,1121.3 704.2,1119.2 704.8,1116.3 705.3,1113.5 705.9,1091.7 706.4,1077.5 707.0,1072.2 707.5,1074.6 708.1,1080.4 708.6,1073.3 709.2,1074.5 709.7,1097.0 710.3,1105.7 710.8,1092.6 711.4,1092.7 711.9,1108.6 712.5,1095.5 713.0,1076.1 713.5,1095.9 714.1,1114.5 714.6,1087.5 715.2,1072.1 715.7,1093.5 716.2,1090.4 716.8,1076.6 717.3,1086.6 717.9,1099.0 718.4,1087.7 718.9,1082.0 719.5,1103.3 720.0,1104.8 720.5,1086.0 721.1,1072.4 721.6,1064.7 722.1,1068.2 722.7,1074.8 723.2,1101.2 723.7,1120.8 724.3,1120.0 724.8,1119.3 725.3,1113.1 725.8,1096.7 726.4,1069.3 726.9,1070.2 727.4,1078.4 728.0,1101.4 728.5,1111.9 729.0,1078.0 729.5,1062.2 730.1,1071.5 730.6,1074.7 731.1,1078.0 731.6,1083.6 732.1,1085.0 732.7,1107.1 733.2,1122.0 733.7,1099.1 734.2,1100.3 734.7,1125.1 735.3,1118.7 735.8,1087.5 736.3,1103.7 736.8,1131.9 737.3,1128.3 737.8,1125.5 738.4,1095.5 738.9,1081.6 739.4,1086.3 739.9,1106.7 740.4,1129.8 740.9,1107.8 741.4,1079.9 741.9,1082.8 742.5,1090.0 743.0,1112.9 743.5,1116.9 744.0,1096.4 744.5,1100.3 745.0,1131.0 745.5,1113.8 746.0,1092.8 746.5,1116.5 747.0,1129.2 747.5,1130.4 748.0,1119.3 748.5,1094.5 749.0,1107.1 749.5,1135.6 750.0,1123.7 750.5,1100.4 751.0,1093.9 751.5,1089.6 752.0,1108.4 752.5,1117.3 753.0,1096.8 753.5,1087.5 754.0,1085.8 754.5,1107.2 755.0,1134.0 755.5,1134.0 756.0,1135.2 756.5,1140.2 757.0,1132.9 757.5,1103.7 758.0,1089.1 758.5,1088.7 759.0,1106.0 759.5,1136.9 760.0,1116.4 760.5,1103.6 760.9,1119.8 761.4,1120.0 761.9,1090.8 762.4,1075.4 762.9,1086.7 763.4,1081.7 763.9,1073.5 764.4,1102.8 764.8,1123.7 765.3,1132.9 765.8,1116.6 766.3,1092.3 766.8,1105.3 767.3,1129.5 767.8,1120.8 768.2,1105.7 768.7,1120.7 769.2,1128.1 769.7,1108.2 770.2,1092.9 770.6,1091.7 771.1,1091.7 771.6,1087.8 772.1,1103.7 772.6,1124.9 773.0,1103.6 773.5,1094.7 774.0,1115.7 774.5,1133.1 774.9,1128.3 775.4,1115.8 775.9,1096.2 776.4,1098.8 776.8,1114.6 777.3,1127.0 777.8,1135.0 778.3,1129.3 778.7,1125.0 779.2,1108.2 779.7,1109.8 780.1,1116.9 780.6,1107.9 781.1,1092.1 781.5,1125.8 782.0,1141.8 782.5,1112.0 783.0,1096.0 783.4,1113.7 783.9,1123.5 784.4,1130.1 784.8,1121.3 785.3,1109.3 785.7,1116.4 786.2,1126.7 786.7,1125.0 787.1,1115.7 787.6,1094.9 788.1,1088.6 788.5,1084.6 789.0,1105.1 789.5,1127.1 789.9,1140.7 790.4,1141.8 790.8,1137.1 791.3,1132.5 791.8,1132.8 792.2,1119.1 792.7,1098.3 793.1,1106.5 793.6,1126.4 794.0,1108.1 794.5,1102.3 794.9,1118.5 795.4,1118.9 795.9,1091.3 796.3,1097.3 796.8,1126.4 797.2,1116.5 797.7,1106.0 798.1,1125.4 798.6,1129.6 799.0,1101.2 799.5,1102.0 799.9,1117.7 800.4,1112.9 800.8,1094.0 801.3,1109.6 801.7,1134.2 802.2,1116.1 802.6,1100.7 803.1,1090.0 803.5,1095.4 804.0,1115.7 804.4,1115.9 804.9,1102.4 805.3,1097.2 805.8,1088.7 806.2,1106.8 806.7,1117.7 807.1,1116.9 807.6,1107.6 808.0,1099.4 808.5,1091.4 808.9,1090.2 809.4,1112.4 809.8,1129.1 810.3,1105.2 810.7,1101.9 811.2,1113.2 811.6,1126.7 812.1,1140.8 812.5,1111.4 813.0,1084.0 813.4,1084.9 813.9,1088.3 814.3,1087.4 814.8,1095.8 815.2,1116.9 815.7,1102.8 816.1,1087.3 816.6,1081.6 817.0,1096.7 817.5,1123.2 817.9,1116.0 818.4,1083.7 818.8,1085.4 819.3,1095.0 819.7,1120.3 820.2,1126.3 820.6,1107.9 821.1,1100.5 821.5,1098.7 822.0,1116.3 822.4,1123.4 822.9,1103.4 823.3,1103.6 823.8,1113.8 824.2,1104.6 824.7,1093.3 825.1,1112.9 825.6,1110.6 826.0,1085.8 826.5,1103.6 826.9,1125.6 827.4,1103.1 827.8,1099.7 828.3,1128.1 828.7,1131.2 829.2,1124.4 829.6,1100.0 830.1,1080.2 830.5,1078.2 831.0,1091.3 831.4,1121.8 831.9,1104.7 832.3,1094.0 832.8,1118.7 833.2,1116.4 833.7,1083.2 834.1,1085.8 834.6,1094.7 835.0,1113.3 835.5,1125.1 835.9,1122.5 836.4,1105.4 836.8,1096.2 837.3,1117.2 837.7,1119.9 838.2,1091.3 838.6,1105.4 839.1,1119.9 839.5,1098.5 840.0,1104.6 840.4,1128.5 840.9,1119.0 841.3,1106.9 841.8,1092.9 842.2,1099.5 842.7,1122.7 843.1,1105.1 843.6,1089.0 844.0,1091.6 844.5,1089.0 844.9,1079.2 845.4,1107.1 845.8,1113.8 846.3,1078.2 846.7,1088.7 847.2,1118.1 847.6,1092.5 848.1,1087.2 848.5,1114.0 849.0,1094.2 849.4,1072.9 849.9,1076.9 850.3,1097.4 850.8,1130.3 851.2,1129.3 851.7,1131.6 852.1,1131.7 852.6,1107.8 853.0,1078.4 853.5,1077.1 853.9,1092.7 854.4,1126.6 854.8,1100.2 855.3,1076.6 855.7,1082.0 856.2,1100.9 856.6,1121.6 857.1,1094.0 857.5,1096.7 858.0,1133.8 858.4,1105.7 858.9,1089.3 859.3,1121.3 859.8,1111.0 860.2,1100.8 860.7,1128.0 861.1,1115.9 861.6,1089.8 862.0,1118.0 862.5,1124.3 862.9,1094.3 863.4,1117.7 863.8,1133.8 864.3,1117.2 864.7,1118.2 865.2,1135.3 865.6,1137.4 866.1,1123.9 866.5,1097.0 867.0,1095.9 867.4,1111.0 867.9,1141.8 868.3,1144.9 868.8,1132.6 869.2,1099.9 869.7,1110.5 870.1,1128.5 870.6,1100.8 871.0,1107.2 871.4,1127.1 871.9,1097.7 872.3,1101.5 872.8,1132.0 873.2,1095.9 873.7,1077.5 874.1,1075.8 874.6,1100.2 875.0,1116.9 875.5,1125.2 875.9,1094.1 876.4,1068.3 876.8,1062.5 877.3,1083.1 877.7,1099.7 878.2,1066.8 878.6,1082.7 879.1,1096.2 879.5,1068.2 880.0,1074.3 880.4,1091.6 880.9,1065.9 881.3,1056.4 881.8,1056.5 882.2,1056.6 882.7,1057.0 883.1,1059.1 883.6,1062.9 884.0,1084.1 884.5,1112.0 884.9,1074.1 885.4,1061.0 885.8,1067.8 886.3,1067.1 886.7,1058.1 887.2,1047.5 887.6,1065.5 888.1,1082.5 888.5,1095.0 889.0,1071.4 889.4,1073.6 889.9,1095.1 890.3,1069.3 890.8,1079.2 891.2,1099.0 891.7,1067.5 892.1,1075.4 892.6,1092.2 893.0,1068.1 893.5,1071.4 893.9,1078.2 894.4,1047.1 894.8,1062.6 895.3,1075.1 895.7,1057.2 896.2,1048.3 896.6,1063.6 897.1,1097.2 897.5,1089.1 898.0,1077.5 898.4,1045.3 898.9,1070.4 899.3,1070.2 899.8,1047.4 900.2,1045.4 900.7,1062.5 901.1,1086.4 901.6,1055.9 902.0,1069.2 902.5,1081.0 902.9,1053.7 903.4,1070.1 903.8,1088.3 904.3,1109.4 904.7,1068.4 905.2,1047.4 905.6,1051.1 906.1,1053.7 906.5,1047.9 907.0,1046.5 907.4,1090.1 907.9,1074.1 908.3,1060.1 908.8,1090.5 909.2,1065.2 909.7,1065.4 910.1,1093.2 910.6,1067.1 911.0,1077.8 911.5,1099.5 911.9,1104.6 912.4,1074.1 912.8,1060.2 913.3,1096.9 913.7,1066.2 914.2,1038.0 914.6,1036.8 915.1,1074.7 915.5,1078.1 916.0,1066.9 916.4,1072.2 916.9,1059.4 917.3,1071.9 917.8,1098.1 918.2,1102.7 918.7,1083.2 919.1,1065.3 919.6,1088.9 920.0,1057.3 920.5,1051.6 920.9,1080.5 921.4,1056.7 921.8,1075.2 922.3,1085.0 922.7,1058.8 923.2,1079.1 923.6,1089.4 924.1,1069.9 924.5,1054.4 925.0,1071.9 925.4,1092.5 925.9,1099.4 926.3,1098.2 926.8,1071.5 927.2,1047.4 927.7,1079.8 928.1,1051.7 928.6,1056.5 929.0,1080.8 929.5,1046.2 929.9,1057.4 930.4,1066.0 930.8,1057.9 931.3,1076.7 931.7,1060.2 932.2,1040.1 932.6,1055.1 933.1,1080.8 933.5,1087.8 934.0,1077.4 934.4,1042.6 934.9,1074.4 935.3,1098.4 935.8,1091.2 936.2,1057.7 936.7,1039.1 937.1,1038.8 937.6,1044.3 938.0,1055.1 938.5,1077.7 938.9,1076.8 939.4,1042.1 939.8,1051.4 940.3,1039.3 940.7,1054.3 941.2,1080.4 941.6,1052.5 942.1,1076.7 942.5,1090.8 943.0,1089.5 943.4,1047.5 943.9,1061.4 944.3,1083.3 944.8,1090.2 945.2,1048.2 945.7,1074.6 946.1,1072.5 946.6,1057.3 947.0,1077.2 947.5,1056.5 947.9,1046.3 948.4,1057.6 948.8,1101.4 949.3,1054.2 949.7,1058.9 950.2,1068.2 950.6,1027.9 951.1,1075.1 951.5,1083.3 952.0,1068.4 952.4,1036.7 952.9,1056.3 953.3,1051.6 953.8,1057.6 954.2,1054.3 954.7,1027.0 955.1,1061.2 955.6,1039.1 956.0,1019.2 956.5,1056.9 956.9,1027.3 957.4,1048.3 957.8,1052.2 958.3,1031.3 958.7,1018.7 959.2,1054.2 959.6,1035.7 960.1,1004.4 960.5,1026.3 961.0,1015.3 961.4,1004.5 961.9,1026.2 962.3,1043.0 962.8,1017.8 963.2,1059.7 963.7,1043.0 964.1,1033.1 964.6,1056.7 965.0,1015.9 965.5,1006.1 965.9,1034.9 966.4,1063.8 966.8,1047.0 967.3,1008.0 967.7,1016.4 968.2,1021.0 968.6,1031.9 969.1,1050.9 969.5,1055.2 970.0,1024.7 970.4,1009.4 970.9,1017.2 971.3,1047.4 971.8,1027.7 972.2,1020.0 972.7,1031.2 973.1,1035.6 973.6,1001.3 974.0,1034.5 974.5,1015.5 974.9,1027.4 975.3,1041.1 975.8,1013.1 976.2,1048.3 976.7,1042.9 977.1,1037.8 977.6,1021.4 978.0,998.2 978.5,1033.4 978.9,998.3 979.4,1016.0 979.8,1027.2 980.3,1023.1 980.7,993.4 981.2,989.0 981.6,1007.9 982.1,1004.8 982.5,1002.0 983.0,1024.5 983.4,977.8 983.9,1015.2 984.3,997.2 984.8,999.9 985.2,1013.1 985.7,971.9 986.1,1016.5 986.6,984.6 987.0,1002.9 987.5,1009.2 987.9,994.2 988.4,977.5 988.8,1014.0 989.3,994.9 989.7,981.3 990.2,994.9 990.6,1009.2 991.1,976.0 991.5,976.5 992.0,1003.7 992.4,994.4 992.9,994.5 993.3,1010.9 993.8,977.8 994.2,1027.1 994.7,1031.8 995.1,1027.0 995.6,1001.5 996.0,981.7 996.5,1011.2 996.9,989.6 997.4,1011.8 997.8,1011.6 998.3,995.6 998.7,981.1 999.2,979.7 999.6,963.4 1000.1,956.1 1000.5,995.4 1001.0,976.3 1001.4,977.7 1001.9,996.9 1002.3,982.1 1002.8,1005.7 1003.2,1000.2 1003.7,971.4 1004.1,988.1 1004.6,982.9 1005.0,974.2 1005.5,976.5 1005.9,951.4 1006.4,999.0 1006.8,1001.0 1007.3,976.7 1007.7,969.5 1008.2,973.2 1008.6,972.8 1009.1,944.9 1009.5,991.4 1010.0,967.1 1010.4,954.6 1010.9,965.8 1011.3,980.8 1011.8,986.9 1012.2,986.2 1012.7,942.0 1013.1,978.9 1013.6,939.5 1014.0,964.1 1014.5,971.0 1014.9,952.6 1015.4,930.1 1015.8,927.7 1016.3,938.2 1016.7,981.3 1017.2,942.8 1017.6,962.9 1018.1,973.8 1018.5,948.9 1019.0,943.3 1019.4,958.3 1019.9,940.2 1020.3,980.7 1020.8,927.3 1021.2,916.8 1021.7,964.9 1022.1,942.8 1022.6,951.8 1023.0,953.2 1023.5,933.2 1023.9,957.4 1024.4,920.5 1024.8,964.6 1025.3,911.9 1025.7,951.0 1026.2,919.5 1026.6,926.6 1027.1,938.3 1027.5,918.7 1028.0,898.1 1028.4,926.7 1028.9,934.3 1029.3,932.6 1029.8,884.0 1030.2,909.9 1030.7,903.7 1031.1,924.5 1031.6,935.5 1032.0,905.7 1032.5,899.0 1032.9,913.0 1033.4,877.7 1033.8,876.7 1034.3,881.6 1034.7,909.2 1035.2,914.8 1035.6,879.4 1036.1,864.0 1036.5,880.4 1037.0,870.5 1037.4,891.0 1037.9,923.2 1038.3,905.0 1038.8,878.1 1039.2,895.2 1039.7,861.2 1040.1,864.2 1040.6,897.1 1041.0,860.3 1041.5,852.6 1041.9,879.0 1042.4,863.0 1042.8,878.8 1043.3,871.1 1043.7,879.5 1044.2,869.9 1044.6,853.5 1045.1,864.0 1045.5,850.9 1046.0,886.0 1046.4,879.0 1046.9,843.2 1047.3,865.4 1047.8,822.8 1048.2,823.3 1048.7,864.7 1049.1,834.4 1049.6,861.6 1050.0,842.2 1050.5,845.2 1050.9,831.0 1051.4,844.1 1051.8,835.5 1052.3,833.0 1052.7,843.8 1053.2,826.7 1053.6,830.7 1054.1,813.5 1054.5,840.7 1055.0,849.6 1055.4,847.3 1055.9,830.4 1056.3,792.3 1056.8,827.4 1057.2,774.7 1057.7,780.8 1058.1,811.3 1058.6,774.1 1059.0,792.0 1059.5,768.5 1059.9,783.6 1060.4,764.7 1060.8,772.5 1061.3,754.4 1061.7,741.0 1062.2,773.8 1062.6,754.8 1063.1,761.3 1063.5,751.8 1064.0,744.4 1064.4,761.7 1064.9,736.0 1065.3,710.1 1065.8,725.2 1066.2,714.7 1066.7,707.8 1067.1,750.4 1067.6,739.4 1068.0,710.2 1068.5,741.4 1068.9,737.2 1069.4,714.9 1069.8,681.4 1070.3,696.3 1070.7,668.5 1071.2,676.6 1071.6,697.7 1072.1,679.8 1072.5,686.8 1073.0,660.6 1073.4,694.8 1073.9,665.0 1074.3,629.7 1074.8,663.5 1075.2,650.6 1075.7,600.8 1076.1,593.9 1076.6,636.0 1077.0,615.0 1077.5,565.8 1077.9,572.1 1078.4,569.3 1078.8,529.1 1079.2,529.0 1079.7,498.1 1080.1,484.9 1080.6,456.5 1081.0,458.2 1081.5,416.9 1081.9,356.4 1082.4,312.7 1082.8,250.0 1083.3,194.6 1083.7,174.9 1084.2,208.4 1084.6,269.4 1085.1,329.0 1085.5,387.1 1086.0,406.2 1086.4,444.6 1086.9,499.2 1087.3,503.7 1087.8,531.3 1088.2,543.3 1088.7,570.9 1089.1,564.4 1089.6,565.1 1090.0,624.1 1090.5,597.5 1090.9,614.8 1091.4,617.2 1091.8,673.9 1092.3,683.9 1092.7,659.1 1093.2,646.6 1093.6,650.1 1094.1,715.8 1094.5,673.0 1095.0,707.2 1095.4,699.0 1095.9,675.6 1096.3,696.7 1096.8,699.2 1097.2,710.5 1097.7,706.8 1098.1,726.9 1098.6,704.1 1099.0,683.3 1099.5,728.7 1099.9,714.7 1100.4,739.9 1100.8,722.9 1101.3,741.6 1101.7,771.2 1102.2,710.1 1102.6,763.4 1103.1,725.8 1103.5,761.1 1104.0,736.4 1104.4,757.9 1104.9,743.9 1105.3,767.5 1105.8,763.4 1106.2,751.1 1106.7,772.7 1107.1,762.0 1107.6,790.1 1108.0,804.5 1108.5,742.8 1108.9,738.1 1109.4,805.3 1109.8,765.2 1110.3,777.9 1110.7,762.1 1111.2,776.5 1111.6,785.7 1112.1,779.1 1112.5,775.4 1113.0,745.1 1113.4,757.7 1113.9,788.4 1114.3,743.4 1114.8,769.6 1115.2,782.1 1115.7,759.8 1116.1,776.1 1116.6,745.8 1117.0,769.5 1117.5,790.0 1117.9,757.0 1118.4,739.5 1118.8,716.6 1119.3,777.8 1119.7,730.3 1120.2,737.3 1120.6,736.3 1121.1,759.1 1121.5,752.1 1122.0,752.0 1122.4,734.5 1122.9,776.8 1123.3,748.4 1123.8,774.8 1124.2,750.7 1124.7,718.4 1125.1,716.5 1125.6,736.0 1126.0,727.7 1126.5,700.2 1126.9,739.4 1127.4,695.9 1127.8,725.9 1128.3,690.9 1128.7,737.3 1129.2,699.6 1129.6,695.8 1130.1,721.7 1130.5,687.5 1131.0,698.3 1131.4,674.4 1131.9,708.2 1132.3,676.8 1132.8,669.8 1133.2,676.8 1133.7,682.0 1134.1,638.1 1134.6,672.5 1135.0,622.3 1135.5,647.8 1135.9,678.1 1136.4,630.1 1136.8,607.5 1137.3,645.1 1137.7,591.5 1138.2,624.7 1138.6,572.5 1139.1,604.9 1139.5,617.9 1140.0,615.0 1140.4,627.4 1140.9,567.7 1141.3,602.3 1141.8,562.2 1142.2,549.9 1142.7,516.0 1143.1,536.6 1143.6,525.6 1144.0,436.9 1144.5,446.9 1144.9,426.7 1145.4,383.0 1145.8,343.5 1146.3,318.8 1146.7,270.3 1147.2,217.6 1147.7,192.7 1148.1,204.4 1148.5,243.9 1149.0,310.8 1149.4,324.1 1149.9,400.1 1150.3,432.3 1150.8,431.8 1151.2,460.8 1151.7,465.8 1152.1,522.6 1152.6,508.1 1153.0,531.4 1153.5,564.2 1153.9,533.5 1154.4,547.5 1154.8,563.9 1155.3,590.1 1155.7,580.3 1156.2,630.0 1156.6,641.2 1157.1,628.1 1157.5,670.6 1158.0,624.0 1158.4,619.7 1158.9,665.4 1159.3,677.4 1159.8,645.7 1160.2,663.0 1160.7,646.3 1161.1,683.9 1161.6,680.6 1162.0,628.0 1162.5,689.0 1162.9,662.5 1163.4,696.7 1163.8,703.6 1164.3,706.0 1164.7,694.8 1165.2,685.5 1165.6,723.7 1166.1,697.4 1166.5,709.5 1167.0,718.4 1167.4,679.8 1167.9,721.1 1168.3,705.5 1168.8,718.9 1169.2,751.6 1169.7,768.4 1170.1,717.7 1170.6,736.2 1171.0,718.7 1171.5,778.8 1171.9,754.3 1172.4,755.3 1172.8,753.9 1173.3,787.3 1173.7,778.6 1174.2,745.9 1174.6,755.2 1175.1,787.6 1175.5,756.9 1176.0,791.4 1176.4,758.3 1176.9,775.4 1177.3,749.7 1177.8,784.3 1178.2,778.9 1178.7,761.1 1179.1,801.7 1179.6,761.9 1180.0,803.7 1180.5,765.7 1180.9,813.8 1181.4,811.7 1181.8,809.1 1182.2,765.6 1182.7,790.7 1183.1,771.3 1183.6,767.9 1184.0,826.9 1184.5,746.4 1184.9,783.6 1185.4,771.0 1185.8,809.9 1186.3,775.6 1186.7,789.8 1187.2,822.2 1187.6,818.5 1188.1,749.5 1188.5,767.7 1189.0,825.9 1189.4,761.1 1189.9,789.8 1190.3,824.8 1190.8,763.4 1191.2,825.1 1191.7,788.2 1192.1,804.5 1192.6,765.1 1193.0,743.6 1193.5,790.1 1193.9,733.7 1194.4,740.2 1194.8,743.0 1195.3,811.3 1195.7,764.3 1196.2,813.3 1196.6,764.9 1197.1,801.0 1197.5,752.1 1198.0,797.5 1198.4,750.6 1198.9,805.8 1199.3,760.5 1199.8,788.1 1200.2,754.9 1200.7,774.6 1201.1,793.7 1201.6,735.3 1202.0,770.5 1202.5,777.1 1202.9,785.4 1203.4,779.6 1203.8,762.5 1204.3,770.1 1204.7,738.0 1205.2,766.7 1205.6,717.4 1206.1,748.6 1206.5,745.3 1207.0,706.3 1207.4,726.1 1207.9,691.4 1208.3,742.9 1208.8,679.7 1209.2,708.3 1209.7,667.0 1210.1,716.7 1210.6,673.0 1211.0,709.8 1211.5,653.4 1211.9,687.1 1212.4,648.9 1212.8,676.6 1213.3,631.9 1213.7,677.9 1214.2,628.8 1214.6,660.8 1215.1,598.9 1215.5,621.6 1216.0,583.4 1216.4,580.5 1216.9,603.6 1217.3,602.7 1217.8,540.8 1218.2,572.4 1218.7,531.0 1219.1,556.8 1219.6,535.0 1220.0,484.7 1220.5,502.6 1220.9,487.4 1221.4,462.4 1221.8,469.6 1222.3,468.6 1222.7,425.0 1223.2,410.9 1223.6,397.9 1224.1,362.4 1224.5,325.1 1225.0,298.2 1225.4,269.6 1225.9,261.5 1226.3,270.1 1226.8,294.0 1227.2,318.7 1227.7,365.9 1228.1,387.4 1228.6,430.4 1229.0,437.3 1229.5,439.3 1229.9,474.9 1230.4,510.3 1230.8,470.3 1231.3,524.5 1231.7,509.4 1232.2,583.0 1232.6,557.4 1233.1,542.5 1233.5,582.6 1234.0,584.8 1234.4,589.6 1234.9,613.3 1235.3,593.5 1235.8,628.3 1236.2,609.4 1236.7,638.0 1237.1,593.5 1237.6,635.7 1238.0,655.7 1238.5,662.8 1238.9,613.4 1239.4,642.2 1239.8,641.3 1240.3,604.5 1240.7,600.6 1241.2,560.8 1241.6,546.0 1242.1,507.7 1242.5,486.9 1242.7,482.4 1243.0,487.5 1243.4,516.9 1243.9,552.7 1244.3,588.3 1244.8,622.6 1245.2,623.3 1245.7,617.2 1246.1,647.6 1246.6,658.3 1247.0,670.0 1247.5,677.3 1247.9,689.6 1248.4,722.7 1248.8,702.6 1249.3,721.6 1249.7,687.7 1250.2,698.1 1250.6,754.7 1251.1,746.3 1251.5,745.6 1252.0,746.6 1252.4,762.3 1252.9,775.6 1253.3,771.2 1253.8,726.9 1254.2,735.3 1254.7,728.3 1255.1,747.8 1255.6,725.1 1256.0,749.0 1256.5,783.0 1256.9,738.7 1257.4,708.5 1257.8,760.0 1258.3,730.7 1258.7,734.3 1259.2,743.3 1259.6,753.5 1260.1,725.3 1260.5,768.5 1261.0,761.3 1261.4,755.6 1261.9,765.4 1262.3,747.5 1262.8,711.9 1263.2,755.1 1263.7,769.3 1264.1,746.9 1264.6,748.1 1265.0,730.8 1265.5,736.4 1265.9,758.0 1266.4,702.0 1266.8,753.4 1267.3,748.2 1267.7,710.7 1268.2,752.8 1268.6,710.6 1269.1,771.4 1269.5,753.7 1270.0,754.6 1270.4,751.0 1270.9,767.7 1271.3,732.9 1271.8,738.7 1272.2,723.0 1272.7,723.3 1273.1,671.5 1273.6,633.5 1274.0,596.7 1274.5,547.3 1274.9,523.2 1275.4,552.1 1275.8,593.3 1276.3,630.6 1276.7,650.8 1277.2,686.6 1277.6,722.4 1278.1,711.4 1278.5,739.1 1279.0,757.3 1279.4,712.0 1279.9,760.2 1280.3,745.8 1280.8,742.3 1281.2,756.2 1281.7,756.2 1282.1,731.9 1282.6,780.4 1283.0,696.1 1283.5,734.7 1283.9,751.7 1284.4,698.5 1284.8,702.0 1285.3,740.8 1285.7,676.7 1286.1,709.6 1286.6,682.1 1287.0,721.9 1287.5,744.2 1287.9,717.6 1288.4,698.9 1288.8,677.1 1289.3,690.5 1289.7,728.7 1290.2,697.6 1290.6,689.9 1291.1,670.5 1291.5,682.8 1292.0,712.5 1292.4,654.2 1292.9,684.2 1293.3,639.5 1293.8,699.3 1294.2,638.3 1294.7,630.7 1295.1,670.7 1295.6,647.3 1296.0,600.1 1296.5,591.2 1296.9,615.4 1297.4,570.6 1297.8,558.3 1298.3,567.7 1298.7,559.5 1299.2,529.9 1299.6,493.6 1300.1,462.4 1300.5,462.9 1301.0,424.2 1301.4,404.6 1301.9,337.9 1302.3,289.6 1302.8,273.1 1303.2,290.0 1303.7,344.7 1304.1,387.8 1304.6,419.5 1305.0,446.5 1305.5,486.4 1305.9,490.5 1306.4,545.9 1306.8,551.3 1307.3,535.5 1307.7,581.9 1308.2,601.6 1308.6,594.2 1309.1,608.4 1309.5,591.9 1310.0,566.0 1310.4,600.4 1310.9,613.3 1311.3,612.3 1311.8,615.4 1312.2,569.2 1312.7,542.4 1313.1,543.0 1313.6,542.3 1314.0,528.8 1314.5,480.0 1314.9,445.4 1315.4,399.7 1315.9,369.8 1316.3,385.8 1316.7,426.7 1317.2,460.6 1317.6,490.9 1318.1,553.4 1318.5,544.2 1319.0,572.3 1319.4,572.5 1319.9,584.5 1320.3,649.7 1320.8,618.2 1321.2,612.7 1321.7,679.9 1322.1,682.2 1322.6,704.1 1323.0,669.4 1323.5,712.0 1323.9,728.4 1324.4,665.1 1324.8,719.7 1325.3,697.0 1325.7,706.5 1326.2,714.1 1326.6,730.2 1327.1,714.9 1327.5,726.7 1328.0,747.6 1328.4,749.0 1328.9,711.1 1329.3,787.3 1329.8,765.5 1330.2,761.2 1330.7,766.5 1331.1,747.7 1331.6,741.6 1332.0,722.5 1332.5,783.0 1332.9,720.7 1333.4,745.2 1333.8,811.6 1334.3,752.3 1334.7,775.7 1335.2,759.5 1335.6,723.9 1336.1,785.7 1336.5,762.0 1337.0,738.5 1337.4,789.1 1337.9,763.6 1338.3,738.5 1338.8,695.0 1339.2,686.6 1339.7,632.0 1340.1,565.2 1340.3,556.0 1340.6,574.0 1341.0,644.3 1341.5,698.0 1341.9,729.9 1342.4,732.8 1342.8,771.1 1343.3,791.8 1343.7,742.0 1344.2,808.1 1344.6,745.8 1345.1,725.4 1345.5,729.0 1346.0,739.2 1346.4,768.3 1346.9,771.4 1347.3,791.5 1347.8,733.0 1348.2,740.5 1348.7,743.4 1349.1,735.8 1349.6,718.9 1350.0,727.6 1350.5,731.9 1350.9,738.9 1351.4,740.3 1351.8,711.9 1352.3,727.2 1352.7,777.6 1353.2,765.8 1353.6,724.8 1354.1,757.6 1354.5,710.9 1355.0,717.3 1355.4,733.5 1355.9,749.6 1356.3,731.1 1356.8,721.2 1357.2,710.4 1357.7,725.1 1358.1,761.7 1358.6,727.9 1359.0,715.7 1359.5,704.4 1359.9,767.1 1360.4,742.9 1360.8,729.6 1361.3,742.5 1361.7,753.5 1362.2,758.6 1362.6,766.9 1363.1,754.8 1363.5,752.2 1364.0,738.1 1364.4,745.2 1364.9,719.6 1365.3,692.7 1365.8,721.7 1366.2,720.7 1366.7,667.8 1367.1,681.3 1367.6,633.3 1368.0,653.5 1368.5,631.9 1368.9,615.2 1369.4,647.1 1369.8,586.1 1370.3,616.9 1370.7,555.7 1371.2,546.7 1371.6,494.7 1372.1,501.5 1372.5,455.0 1373.0,415.2 1373.4,346.0 1373.9,309.0 1374.3,337.8 1374.8,396.0 1375.2,450.5 1375.7,482.2 1376.1,515.9 1376.6,537.2 1377.0,573.6 1377.5,589.8 1377.9,551.6 1378.4,607.5 1378.8,573.5 1379.3,561.4 1379.7,615.0 1380.2,559.0 1380.6,553.4 1381.1,510.5 1381.5,505.5 1382.0,475.0 1382.4,412.0 1382.9,388.4 1383.3,335.8 1383.8,282.4 1383.9,280.3 1384.2,295.0 1384.7,355.1 1385.1,395.6 1385.6,447.5 1386.0,497.0 1386.5,481.9 1386.9,566.6 1387.4,539.9 1387.8,579.5 1388.3,575.2 1388.7,632.0 1389.2,593.1 1389.6,623.9 1390.0,650.3 1390.5,642.9 1390.9,657.4 1391.4,664.2 1391.8,641.7 1392.3,697.6 1392.7,704.7 1393.2,715.7 1393.6,669.7 1394.1,716.0 1394.5,670.2 1395.0,715.5 1395.4,635.2 1395.9,714.0 1396.3,656.5 1396.8,699.2 1397.2,689.4 1397.7,680.8 1398.1,613.8 1398.6,595.5 1399.0,633.6 1399.5,617.5 1399.9,545.4 1400.4,554.2 1400.8,521.2 1401.3,496.4 1401.7,428.6 1402.2,380.7 1402.6,336.4 1403.1,307.3 1403.5,335.7 1404.0,383.3 1404.4,451.2 1404.9,490.3 1405.3,512.5 1405.8,569.6 1406.2,563.1 1406.7,574.5 1407.1,606.0 1407.6,572.8 1408.0,582.1 1408.5,621.9 1408.9,638.1 1409.4,637.4 1409.8,680.4 1410.3,677.5 1410.7,694.9 1411.2,698.3 1411.6,644.6 1412.1,680.8 1412.5,691.7 1413.0,718.1 1413.4,664.5 1413.9,664.2 1414.3,730.1 1414.8,723.7 1415.2,724.1 1415.7,713.5 1416.1,725.0 1416.6,706.1 1417.0,703.4 1417.5,692.2 1417.9,747.7 1418.4,680.1 1418.8,709.3 1419.3,759.5 1419.7,752.1 1420.2,697.5 1420.6,735.1 1421.1,699.4 1421.5,717.7 1422.0,746.7 1422.4,716.9 1422.9,684.4 1423.3,690.0 1423.8,725.5 1424.2,704.1 1424.7,717.1 1425.1,651.7 1425.6,661.4 1426.0,618.9 1426.5,592.2 1426.9,540.6 1427.4,495.5 1427.7,473.2 1427.8,478.3 1428.3,526.8 1428.7,577.2 1429.2,622.4 1429.6,644.8 1430.1,668.1"/>
<path stroke="#bf00bf" d="M356.5,956.2 357.7,957.7 358.8,953.9 360.0,943.5 361.1,927.1 362.0,926.1 363.4,918.4 364.6,917.5 365.7,902.8 366.9,887.9 368.0,874.4 368.5,868.5 369.2,877.6 370.3,897.0 371.4,913.0 372.5,920.7 373.0,925.6 373.7,933.9 374.8,945.0 375.9,959.2 377.0,965.1 377.8,966.1 379.3,951.6 380.4,955.2 381.5,951.2 382.6,938.8 383.7,933.9 384.8,928.0 385.4,924.1 385.9,929.4 387.0,941.6 388.1,946.3 389.1,953.5 390.2,961.8 391.0,968.7 392.4,987.0 393.5,992.1 394.6,993.5 395.6,1007.4 396.7,1021.6 397.4,1020.9 397.8,1021.7 398.8,1026.9 399.9,1046.3 401.0,1061.5 402.0,1071.8 403.0,1081.1 404.1,1091.2 405.2,1094.5 406.2,1093.8 407.3,1113.2 408.3,1127.6 409.4,1123.0 409.7,1119.7 410.4,1113.5 411.4,1104.5 412.5,1100.2 413.5,1098.3 414.5,1082.3 415.6,1058.2 415.9,1057.6 416.6,1059.7 417.6,1060.6 418.6,1066.1 419.7,1062.9 420.7,1055.8 421.7,1052.5 422.7,1052.5 423.7,1036.6 424.7,1019.9 425.7,1021.0 426.7,1022.5 427.7,1009.4 428.7,993.8 429.7,981.4 430.7,979.1 431.7,980.1 432.4,975.6 433.7,986.5 434.7,985.2 435.7,989.4 436.7,990.7 437.6,1001.8 438.0,1002.8 438.6,1011.6 439.6,1012.1 440.6,1011.6 441.5,1021.0 442.5,1036.7 443.5,1038.0 444.4,1044.1 445.4,1043.2 446.4,1034.4 447.3,1018.2 448.3,1006.4 449.0,1001.6 450.2,990.5 451.2,984.0 452.1,986.8 453.0,984.0 454.0,979.4 455.0,979.5 455.9,984.3 456.8,986.6 457.8,984.6 458.7,976.4 459.6,972.0 460.6,974.4 461.5,976.1 462.4,965.8 463.4,957.6 464.3,957.0 465.2,957.6 466.1,961.9 467.1,973.6 468.0,984.1 468.9,977.8 469.8,978.1 470.7,990.3 471.6,996.8 472.6,996.0 473.5,1003.9 474.4,1027.5 475.3,1042.3 476.2,1053.5 477.1,1054.6 478.0,1060.1 478.7,1076.5 479.8,1071.0 480.7,1048.6 481.6,1041.9 482.4,1043.4 483.3,1026.6 484.0,1011.0 485.1,1009.5 486.0,1011.1 486.9,995.3 487.8,985.8 488.6,988.9 489.5,976.0 490.0,960.4 490.4,955.8 491.3,961.4 492.1,970.9 493.0,961.0 493.9,952.4 494.7,942.0 495.6,938.9 496.5,948.2 497.3,943.4 498.2,931.1 499.1,944.6 499.9,964.7 500.8,973.1 501.6,978.9 502.5,984.9 503.3,986.5 504.2,976.9 505.0,988.9 505.9,1013.3 506.5,1010.3 507.6,1000.1 508.4,1028.1 509.3,1043.8 510.1,1032.2 510.9,1034.7 511.8,1061.1 512.6,1061.2 513.4,1050.2 514.3,1062.8 514.7,1068.6 515.1,1071.8 515.9,1066.8 516.8,1067.6 517.6,1075.8 518.4,1087.4 519.2,1104.9 520.1,1106.6 520.9,1093.8 521.7,1107.2 522.5,1124.5 523.0,1129.1 523.3,1128.3 524.1,1119.8 525.0,1096.6 525.8,1086.2 526.6,1095.4 527.4,1093.4 528.2,1076.8 529.0,1062.2 529.8,1049.6 530.6,1058.3 531.2,1066.4 532.2,1051.6 533.0,1050.8 533.8,1069.8 534.6,1061.9 535.4,1047.1 536.2,1056.2 537.0,1071.9 537.4,1061.9 537.8,1060.5 538.6,1064.9 539.4,1089.5 540.1,1108.2 540.9,1107.5 541.7,1110.6 542.5,1109.0 543.3,1100.2 544.1,1091.6 544.8,1093.7 545.6,1094.7 546.4,1084.9 547.0,1077.5 547.9,1069.6 548.7,1074.4 549.5,1089.4 550.3,1072.5 551.0,1049.6 551.8,1067.1 552.6,1082.7 553.3,1068.8 554.1,1068.7 554.9,1076.7 555.6,1073.6 556.4,1064.6 557.1,1073.9 557.9,1085.5 558.7,1074.5 559.4,1064.4 560.0,1077.4 560.9,1080.5 561.7,1058.1 562.4,1048.3 563.2,1048.5 563.9,1047.8 564.7,1042.4 565.4,1053.2 566.2,1064.2 566.9,1049.4 567.6,1048.1 568.2,1054.1 569.1,1063.6 569.9,1047.4 570.6,1064.8 571.3,1086.8 572.1,1091.8 572.8,1088.0 573.5,1063.1 574.3,1053.9 575.0,1065.3 575.7,1069.2 576.5,1062.6 577.2,1065.9 577.9,1062.6 578.5,1043.8 579.4,1031.8 580.1,1036.2 580.8,1043.7 581.5,1067.0 582.2,1077.7 583.0,1082.0 583.7,1068.9 584.4,1045.9 585.1,1064.2 585.8,1077.4 586.5,1085.7 586.8,1090.6 587.2,1091.1 588.0,1097.9 588.7,1087.8 589.4,1070.3 590.1,1076.0 590.8,1082.9 591.5,1067.8 592.2,1056.9 592.9,1073.1 593.6,1080.1 594.3,1080.8 595.0,1078.0 595.7,1073.3 596.4,1060.1 597.0,1047.2 597.8,1054.9 598.5,1069.0 599.2,1080.8 599.9,1087.2 600.6,1079.7 601.3,1092.9 601.9,1112.6 602.6,1121.0 603.0,1119.5 603.3,1118.4 604.0,1095.0 604.7,1077.4 605.4,1093.5 606.1,1095.1 606.7,1074.1 607.4,1073.7 608.1,1097.2 608.8,1082.5 609.5,1057.7 610.1,1084.6 610.8,1102.3 611.5,1099.2 612.2,1089.9 612.8,1073.8 613.5,1090.5 614.2,1121.4 614.8,1121.2 615.5,1117.9 616.2,1099.8 616.9,1084.3 617.5,1087.3 618.2,1089.0 618.9,1103.6 619.5,1099.8 620.2,1090.2 620.8,1082.6 621.5,1080.2 622.2,1090.6 622.8,1099.4 623.5,1088.7 624.1,1093.3 624.8,1107.0 625.5,1102.0 626.1,1074.3 626.8,1075.1 627.4,1083.5 628.0,1100.2 628.7,1115.9 629.4,1087.0 630.0,1085.4 630.7,1112.6 631.3,1112.7 632.0,1096.3 632.6,1106.6 633.2,1124.3 633.9,1130.1 634.5,1132.8 635.2,1117.7 635.8,1108.2 636.5,1108.3 637.1,1119.5 637.7,1139.8 638.2,1133.4 639.0,1097.6 639.6,1118.7 640.3,1132.0 640.9,1103.7 641.5,1097.2 642.2,1120.8 642.8,1111.4 643.4,1086.8 644.1,1098.8 644.7,1118.1 645.0,1102.9 645.3,1091.2 646.0,1073.6 646.6,1096.2 647.2,1108.0 647.8,1110.8 648.5,1098.9 649.1,1077.3 649.7,1093.5 650.0,1101.8 650.3,1120.8 650.9,1114.8 651.6,1102.0 652.2,1123.0 652.8,1126.8 653.4,1124.3 654.0,1105.7 654.7,1083.2 655.3,1099.0 655.9,1122.0 656.5,1105.8 657.1,1099.4 657.7,1109.4 658.3,1114.2 658.9,1115.8 659.5,1104.0 660.2,1085.2 660.8,1073.5 661.4,1067.8 662.0,1095.5 662.6,1114.5 663.2,1088.4 663.8,1084.4 664.4,1106.0 665.0,1100.1 665.6,1081.4 666.2,1090.8 666.8,1108.2 667.4,1116.4 668.0,1120.8 668.6,1085.7 669.2,1070.6 669.8,1100.5 670.4,1106.9 671.0,1088.9 671.6,1099.6 672.2,1116.3 672.8,1095.3 673.3,1076.7 673.9,1092.9 674.5,1096.3 675.1,1072.7 675.7,1069.7 676.3,1070.3 676.9,1090.9 677.5,1116.0 678.1,1110.6 678.6,1104.0 679.2,1080.0 679.8,1081.9 680.4,1114.4 681.0,1123.3 681.6,1125.8 682.1,1116.6 682.7,1111.2 683.3,1096.5 683.9,1083.9 684.4,1099.4 685.0,1111.8 685.6,1117.4 686.2,1106.6 686.8,1093.4 687.3,1107.5 687.9,1127.7 688.5,1123.3 689.0,1113.8 689.6,1091.0 690.2,1088.0 690.8,1121.6 691.3,1111.0 691.9,1071.2 692.5,1064.8 693.0,1073.8 693.6,1104.6 694.2,1132.8 694.7,1125.9 695.3,1112.7 695.9,1084.6 696.4,1073.7 697.0,1070.8 697.5,1092.6 698.1,1119.0 698.7,1091.1 699.2,1074.7 699.8,1091.7 700.3,1099.1 700.9,1077.0 701.5,1069.6 702.0,1068.1 702.6,1085.5 703.1,1112.4 703.7,1088.8 704.2,1065.7 704.8,1067.7 705.3,1074.6 705.9,1078.9 706.4,1071.7 707.0,1043.5 707.5,1062.2 708.1,1089.5 708.6,1058.0 709.2,1041.7 709.7,1074.8 710.3,1090.0 710.8,1091.9 711.4,1073.5 711.9,1041.1 712.5,1034.0 713.0,1042.8 713.5,1072.6 714.1,1090.3 714.6,1063.5 715.2,1055.4 715.7,1074.9 716.2,1083.3 716.8,1086.8 717.3,1069.5 717.9,1051.4 718.4,1054.1 718.9,1067.3 719.5,1095.8 720.0,1095.5 720.5,1062.9 721.1,1064.3 721.6,1092.6 722.1,1074.5 722.7,1050.0 723.2,1083.7 723.7,1108.3 724.3,1066.7 724.8,1040.3 725.3,1039.5 725.8,1056.0 726.4,1082.3 726.9,1075.2 727.4,1067.2 728.0,1088.0 728.5,1107.3 729.0,1095.4 729.5,1078.6 730.1,1061.3 730.6,1070.6 731.1,1093.0 731.6,1070.7 732.1,1044.8 732.7,1072.5 733.2,1089.2 733.7,1074.0 734.2,1076.6 734.7,1096.5 735.3,1103.4 735.8,1101.9 736.3,1110.3 736.8,1113.6 737.3,1092.6 737.8,1070.8 738.4,1090.7 738.9,1094.6 739.4,1097.7 739.9,1092.1 740.4,1067.6 740.9,1088.0 741.4,1115.5 741.9,1094.8 742.5,1081.4 743.0,1092.7 743.5,1104.4 744.0,1117.8 744.5,1103.6 745.0,1084.6 745.5,1081.8 746.0,1091.4 746.5,1077.2 747.0,1073.2 747.5,1105.5 748.0,1121.7 748.5,1131.7 749.0,1135.4 749.5,1138.3 750.0,1106.4 750.5,1076.3 751.0,1078.8 751.5,1087.5 752.0,1121.0 752.5,1122.4 753.0,1096.8 753.5,1094.7 754.0,1118.1 754.5,1104.5 755.0,1085.8 755.5,1113.1 756.0,1124.4 756.5,1095.0 757.0,1089.3 757.5,1108.0 758.0,1111.1 758.5,1094.3 759.0,1106.2 759.5,1123.4 760.0,1100.0 760.5,1085.4 760.9,1115.4 761.4,1119.8 761.9,1093.4 762.4,1097.0 762.9,1119.3 763.4,1097.9 763.9,1067.5 764.4,1082.7 764.8,1099.4 765.3,1084.0 765.8,1087.2 766.3,1118.2 766.8,1109.9 767.3,1082.5 767.8,1094.5 768.2,1119.4 768.7,1095.7 769.2,1077.6 769.7,1073.9 770.2,1076.2 770.6,1103.6 771.1,1101.8 771.6,1070.8 772.1,1096.0 772.6,1127.4 773.0,1107.6 773.5,1095.9 774.0,1075.4 774.5,1080.1 774.9,1119.7 775.4,1129.8 775.9,1114.2 776.4,1099.7 776.8,1076.3 777.3,1091.6 777.8,1105.7 778.3,1106.8 778.7,1098.4 779.2,1073.5 779.7,1085.4 780.1,1109.1 780.6,1093.3 781.1,1075.2 781.5,1091.5 782.0,1100.3 782.5,1087.6 783.0,1084.7 783.4,1110.6 783.9,1103.6 784.4,1084.1 784.8,1079.0 785.3,1078.4 785.7,1081.6 786.2,1083.7 786.7,1108.4 787.1,1111.9 787.6,1089.9 788.1,1096.0 788.5,1116.0 789.0,1108.1 789.5,1086.8 789.9,1119.5 790.4,1136.2 790.8,1107.6 791.3,1095.5 791.8,1114.1 792.2,1104.3 792.7,1077.0 793.1,1071.2 793.6,1067.3 794.0,1099.3 794.5,1120.7 794.9,1088.5 795.4,1086.9 795.9,1119.7 796.3,1115.4 796.8,1085.1 797.2,1068.5 797.7,1067.8 798.1,1094.1 798.6,1118.1 799.0,1121.7 799.5,1112.5 799.9,1093.0 800.4,1091.7 800.8,1106.9 801.3,1095.9 801.7,1075.1 802.2,1095.8 802.6,1106.9 803.1,1087.9 803.5,1081.7 804.0,1079.3 804.4,1076.0 804.9,1066.8 805.3,1073.1 805.8,1081.7 806.2,1075.4 806.7,1079.0 807.1,1105.2 807.6,1120.2 808.0,1116.5 808.5,1105.6 808.9,1083.7 809.4,1097.9 809.8,1107.1 810.3,1076.6 810.7,1075.4 811.2,1118.3 811.6,1109.5 812.1,1089.6 812.5,1085.9 813.0,1093.3 813.4,1107.1 813.9,1119.7 814.3,1124.5 814.8,1126.8 815.2,1122.6 815.7,1098.1 816.1,1079.8 816.6,1088.2 817.0,1094.4 817.5,1113.2 817.9,1102.3 818.4,1079.2 818.8,1081.2 819.3,1089.7 819.7,1109.2 820.2,1108.3 820.6,1083.5 821.1,1100.1 821.5,1126.9 822.0,1091.8 822.4,1082.1 822.9,1117.6 823.3,1100.8 823.8,1065.0 824.2,1091.5 824.7,1112.0 825.1,1090.8 825.6,1076.4 826.0,1069.9 826.5,1067.5 826.9,1061.1 827.4,1064.2 827.8,1071.8 828.3,1101.0 828.7,1094.7 829.2,1072.0 829.6,1098.0 830.1,1104.8 830.5,1084.4 831.0,1081.8 831.4,1103.9 831.9,1089.2 832.3,1081.7 832.8,1104.8 833.2,1111.2 833.7,1103.0 834.1,1087.7 834.6,1072.6 835.0,1103.5 835.5,1110.8 835.9,1072.8 836.4,1070.1 836.8,1071.4 837.3,1066.2 837.7,1074.6 838.2,1109.6 838.6,1123.2 839.1,1126.8 839.5,1109.9 840.0,1095.6 840.4,1075.1 840.9,1064.1 841.3,1068.0 841.8,1103.0 842.2,1105.4 842.7,1076.3 843.1,1103.4 843.6,1120.8 844.0,1095.9 844.5,1075.4 844.9,1061.5 845.4,1092.2 845.8,1103.5 846.3,1081.2 846.7,1095.4 847.2,1126.1 847.6,1083.6 848.1,1066.8 848.5,1073.1 849.0,1095.0 849.4,1107.5 849.9,1112.5 850.3,1097.1 850.8,1071.0 851.2,1067.4 851.7,1073.7 852.1,1111.3 852.6,1100.6 853.0,1071.9 853.5,1099.1 853.9,1093.5 854.4,1058.6 854.8,1090.7 855.3,1104.6 855.7,1073.7 856.2,1067.9 856.6,1075.3 857.1,1097.7 857.5,1088.8 858.0,1054.4 858.4,1087.3 858.9,1102.7 859.3,1075.5 859.8,1083.7 860.2,1101.2 860.7,1072.2 861.1,1072.4 861.6,1081.1 862.0,1074.0 862.5,1086.2 862.9,1130.2 863.4,1103.5 863.8,1074.1 864.3,1079.5 864.7,1103.6 865.2,1136.9 865.6,1122.8 866.1,1107.8 866.5,1091.9 867.0,1116.6 867.4,1112.0 867.9,1081.3 868.3,1074.0 868.8,1075.7 869.2,1080.9 869.7,1073.2 870.1,1060.9 870.6,1070.2 871.0,1090.2 871.4,1115.7 871.9,1115.2 872.3,1094.2 872.8,1056.8 873.2,1096.6 873.7,1104.6 874.1,1064.6 874.6,1091.1 875.0,1098.1 875.5,1057.0 875.9,1078.7 876.4,1089.2 876.8,1047.6 877.3,1074.7 877.7,1094.3 878.2,1060.2 878.6,1065.4 879.1,1076.4 879.5,1057.3 880.0,1048.9 880.4,1050.4 880.9,1078.2 881.3,1090.6 881.8,1089.8 882.2,1059.8 882.7,1065.8 883.1,1084.8 883.6,1086.3 884.0,1061.4 884.5,1034.2 884.9,1073.9 885.4,1068.7 885.8,1045.3 886.3,1044.1 886.7,1057.7 887.2,1082.1 887.6,1050.0 888.1,1061.5 888.5,1091.6 889.0,1089.9 889.4,1067.9 889.9,1039.1 890.3,1038.3 890.8,1044.7 891.2,1046.4 891.7,1082.1 892.1,1064.8 892.6,1044.3 893.0,1074.5 893.5,1062.9 893.9,1055.9 894.4,1071.9 894.8,1080.4 895.3,1077.3 895.7,1054.4 896.2,1060.0 896.6,1075.8 897.1,1085.2 897.5,1049.7 898.0,1032.9 898.4,1040.1 898.9,1069.3 899.3,1069.0 899.8,1051.6 900.2,1074.2 900.7,1061.2 901.1,1033.7 901.6,1036.2 902.0,1039.7 902.5,1045.3 902.9,1031.7 903.4,1055.5 903.8,1068.4 904.3,1044.2 904.7,1060.6 905.2,1062.7 905.6,1034.4 906.1,1034.6 906.5,1053.0 907.0,1080.2 907.4,1078.8 907.9,1078.2 908.3,1080.2 908.8,1086.8 909.2,1057.9 909.7,1052.1 910.1,1076.9 910.6,1036.5 911.0,1053.3 911.5,1100.5 911.9,1046.9 912.4,1062.4 912.8,1087.3 913.3,1085.3 913.7,1046.2 914.2,1052.4 914.6,1086.3 915.1,1046.7 915.5,1060.2 916.0,1070.2 916.4,1038.6 916.9,1029.7 917.3,1034.4 917.8,1041.0 918.2,1072.9 918.7,1064.2 919.1,1034.8 919.6,1030.0 920.0,1064.2 920.5,1068.3 920.9,1037.4 921.4,1074.7 921.8,1051.2 922.3,1030.3 922.7,1073.1 923.2,1082.9 923.6,1084.5 924.1,1077.1 924.5,1037.9 925.0,1051.4 925.4,1059.9 925.9,1017.8 926.3,1057.3 926.8,1051.7 927.2,1034.0 927.7,1070.6 928.1,1068.2 928.6,1057.2 929.0,1039.6 929.5,1071.4 929.9,1072.1 930.4,1069.2 930.8,1071.1 931.3,1043.0 931.7,1058.0 932.2,1070.6 932.6,1030.4 933.1,1032.3 933.5,1056.6 934.0,1083.1 934.4,1081.3 934.9,1084.6 935.3,1060.9 935.8,1035.9 936.2,1061.5 936.7,1042.7 937.1,1049.7 937.6,1076.1 938.0,1027.3 938.5,1053.5 938.9,1075.7 939.4,1072.4 939.8,1039.8 940.3,1027.5 940.7,1047.1 941.2,1083.2 941.6,1041.5 942.1,1028.8 942.5,1045.7 943.0,1067.0 943.4,1040.8 943.9,1062.7 944.3,1082.8 944.8,1082.6 945.2,1070.4 945.7,1043.8 946.1,1048.6 946.6,1069.3 947.0,1033.6 947.5,1057.2 947.9,1051.1 948.4,1034.4 948.8,1083.9 949.3,1037.8 949.7,1043.9 950.2,1056.9 950.6,1018.4 951.1,1056.6 951.5,1063.0 952.0,1042.1 952.4,1016.7 952.9,1058.4 953.3,1028.7 953.8,1033.9 954.2,1057.6 954.7,999.5 955.1,1043.3 955.6,1032.7 956.0,1020.0 956.5,1054.0 956.9,1020.5 957.4,1013.5 957.8,1032.5 958.3,1051.4 958.7,1034.9 959.2,1057.2 959.6,1036.6 960.1,1007.9 960.5,997.8 961.0,1027.4 961.4,1042.8 961.9,1023.3 962.3,992.1 962.8,991.4 963.2,993.8 963.7,1028.6 964.1,1035.8 964.6,1021.6 965.0,1053.0 965.5,1015.5 965.9,1001.5 966.4,1001.8 966.8,1009.5 967.3,1056.4 967.7,1058.1 968.2,1030.5 968.6,995.4 969.1,998.1 969.5,1033.7 970.0,1017.0 970.4,997.6 970.9,991.5 971.3,982.6 971.8,994.3 972.2,1021.4 972.7,1042.3 973.1,1050.2 973.6,1039.4 974.0,1005.0 974.5,1030.3 974.9,1012.1 975.3,980.5 975.8,990.9 976.2,1025.9 976.7,1034.7 977.1,1034.0 977.6,1021.4 978.0,993.2 978.5,1023.1 978.9,1008.4 979.4,1000.1 979.8,1004.3 980.3,1017.2 980.7,1027.3 981.2,1028.0 981.6,987.2 982.1,966.4 982.5,975.5 983.0,1005.7 983.4,977.9 983.9,976.1 984.3,1001.3 984.8,987.3 985.2,973.0 985.7,1008.4 986.1,971.3 986.6,993.9 987.0,1013.4 987.5,989.9 987.9,951.8 988.4,956.3 988.8,963.4 989.3,1007.9 989.7,985.8 990.2,973.4 990.6,995.2 991.1,960.9 991.5,950.1 992.0,949.8 992.4,957.3 992.9,977.2 993.3,986.7 993.8,961.9 994.2,959.0 994.7,988.7 995.1,972.5 995.6,984.1 996.0,998.5 996.5,960.2 996.9,1007.5 997.4,968.2 997.8,998.9 998.3,989.4 998.7,977.6 999.2,988.5 999.6,949.9 1000.1,1006.5 1000.5,987.9 1001.0,985.1 1001.4,970.8 1001.9,943.7 1002.3,944.1 1002.8,986.5 1003.2,947.0 1003.7,990.0 1004.1,977.3 1004.6,972.0 1005.0,973.1 1005.5,954.3 1005.9,989.8 1006.4,944.9 1006.8,966.5 1007.3,981.7 1007.7,959.0 1008.2,935.0 1008.6,952.3 1009.1,973.5 1009.5,934.0 1010.0,935.7 1010.4,941.1 1010.9,967.6 1011.3,967.5 1011.8,965.3 1012.2,958.9 1012.7,930.3 1013.1,929.3 1013.6,951.7 1014.0,933.2 1014.5,920.7 1014.9,937.4 1015.4,949.5 1015.8,931.1 1016.3,959.2 1016.7,916.3 1017.2,956.5 1017.6,917.7 1018.1,942.2 1018.5,961.2 1019.0,943.1 1019.4,927.9 1019.9,950.2 1020.3,918.3 1020.8,949.8 1021.2,925.7 1021.7,947.6 1022.1,928.7 1022.6,934.9 1023.0,928.2 1023.5,920.2 1023.9,943.6 1024.4,905.3 1024.8,954.6 1025.3,897.3 1025.7,921.4 1026.2,933.2 1026.6,933.0 1027.1,902.2 1027.5,897.2 1028.0,910.2 1028.4,877.6 1028.9,910.2 1029.3,876.5 1029.8,926.6 1030.2,869.4 1030.7,916.0 1031.1,929.3 1031.6,887.3 1032.0,893.2 1032.5,897.9 1032.9,887.7 1033.4,917.1 1033.8,874.3 1034.3,914.4 1034.7,868.4 1035.2,868.6 1035.6,860.8 1036.1,869.3 1036.5,853.6 1037.0,891.0 1037.4,898.0 1037.9,887.3 1038.3,903.3 1038.8,895.6 1039.2,899.6 1039.7,895.4 1040.1,855.9 1040.6,899.1 1041.0,886.5 1041.5,862.9 1041.9,838.3 1042.4,868.5 1042.8,847.2 1043.3,831.6 1043.7,855.5 1044.2,872.2 1044.6,877.8 1045.1,867.0 1045.5,851.2 1046.0,875.2 1046.4,833.9 1046.9,864.3 1047.3,814.8 1047.8,802.8 1048.2,817.0 1048.7,833.5 1049.1,856.9 1049.6,824.6 1050.0,841.1 1050.5,827.8 1050.9,802.1 1051.4,804.7 1051.8,832.8 1052.3,824.7 1052.7,809.4 1053.2,825.2 1053.6,807.0 1054.1,848.5 1054.5,841.8 1055.0,794.5 1055.4,785.4 1055.9,808.4 1056.3,782.7 1056.8,798.7 1057.2,769.3 1057.7,772.2 1058.1,754.8 1058.6,796.7 1059.0,764.6 1059.5,755.3 1059.9,768.2 1060.4,749.6 1060.8,771.3 1061.3,747.9 1061.7,730.5 1062.2,755.8 1062.6,744.4 1063.1,747.6 1063.5,732.5 1064.0,713.8 1064.4,707.3 1064.9,724.3 1065.3,714.8 1065.8,705.3 1066.2,716.0 1066.7,710.2 1067.1,713.8 1067.6,674.5 1068.0,692.4 1068.5,716.0 1068.9,698.2 1069.4,681.1 1069.8,690.9 1070.3,667.7 1070.7,704.4 1071.2,679.7 1071.6,655.5 1072.1,704.1 1072.5,689.6 1073.0,676.2 1073.4,673.4 1073.9,651.6 1074.3,627.9 1074.8,661.0 1075.2,637.3 1075.7,588.7 1076.1,568.2 1076.6,567.7 1077.0,558.0 1077.5,574.9 1077.9,530.5 1078.4,536.7 1078.8,559.2 1079.2,531.0 1079.7,504.2 1080.1,471.6 1080.6,464.5 1081.0,430.8 1081.5,389.4 1081.9,357.1 1082.4,310.4 1082.8,271.4 1083.3,235.2 1083.7,226.9 1084.2,239.5 1084.6,278.1 1085.1,321.1 1085.5,366.1 1086.0,399.6 1086.4,433.9 1086.9,475.9 1087.3,485.2 1087.8,521.0 1088.2,527.5 1088.7,527.5 1089.1,569.5 1089.6,575.7 1090.0,608.4 1090.5,580.5 1090.9,589.3 1091.4,631.6 1091.8,596.5 1092.3,630.4 1092.7,655.5 1093.2,631.5 1093.6,676.7 1094.1,648.2 1094.5,667.2 1095.0,653.8 1095.4,692.9 1095.9,688.7 1096.3,686.8 1096.8,702.4 1097.2,703.4 1097.7,716.5 1098.1,724.2 1098.6,699.6 1099.0,663.7 1099.5,715.8 1099.9,700.7 1100.4,720.6 1100.8,747.5 1101.3,698.1 1101.7,735.8 1102.2,718.2 1102.6,754.9 1103.1,756.4 1103.5,728.7 1104.0,741.9 1104.4,728.4 1104.9,738.2 1105.3,752.0 1105.8,771.5 1106.2,730.4 1106.7,758.3 1107.1,733.4 1107.6,743.6 1108.0,787.1 1108.5,743.9 1108.9,768.3 1109.4,731.4 1109.8,725.3 1110.3,741.3 1110.7,753.7 1111.2,729.0 1111.6,764.5 1112.1,753.6 1112.5,764.3 1113.0,760.7 1113.4,738.4 1113.9,787.1 1114.3,741.1 1114.8,777.5 1115.2,732.3 1115.7,744.1 1116.1,760.1 1116.6,758.0 1117.0,752.4 1117.5,758.4 1117.9,744.4 1118.4,742.1 1118.8,716.1 1119.3,759.8 1119.7,777.4 1120.2,744.6 1120.6,747.8 1121.1,714.4 1121.5,736.3 1122.0,723.3 1122.4,755.2 1122.9,754.8 1123.3,696.2 1123.8,712.6 1124.2,730.0 1124.7,710.7 1125.1,761.7 1125.6,720.5 1126.0,686.2 1126.5,675.7 1126.9,679.0 1127.4,679.3 1127.8,722.0 1128.3,678.5 1128.7,723.4 1129.2,714.8 1129.6,707.8 1130.1,700.4 1130.5,714.3 1131.0,652.9 1131.4,683.8 1131.9,672.5 1132.3,662.0 1132.8,694.1 1133.2,660.6 1133.7,663.6 1134.1,633.2 1134.6,668.9 1135.0,654.3 1135.5,638.1 1135.9,650.6 1136.4,613.5 1136.8,628.5 1137.3,581.5 1137.7,614.6 1138.2,578.4 1138.6,588.4 1139.1,587.9 1139.5,615.1 1140.0,622.8 1140.4,557.6 1140.9,591.6 1141.3,575.3 1141.8,544.0 1142.2,554.4 1142.7,503.1 1143.1,515.8 1143.6,507.0 1144.0,441.5 1144.5,423.7 1144.9,406.8 1145.4,377.0 1145.8,334.5 1146.3,325.4 1146.7,282.6 1147.2,242.9 1147.7,227.7 1148.1,236.1 1148.5,259.9 1149.0,304.0 1149.4,330.9 1149.9,371.9 1150.3,397.5 1150.8,419.6 1151.2,455.8 1151.7,440.7 1152.1,503.1 1152.6,482.3 1153.0,529.1 1153.5,527.2 1153.9,586.7 1154.4,579.1 1154.8,579.6 1155.3,553.8 1155.7,602.9 1156.2,610.1 1156.6,575.5 1157.1,614.1 1157.5,605.5 1158.0,612.4 1158.4,598.0 1158.9,650.3 1159.3,623.5 1159.8,644.3 1160.2,630.7 1160.7,618.1 1161.1,671.6 1161.6,672.3 1162.0,638.6 1162.5,633.7 1162.9,683.7 1163.4,647.9 1163.8,696.1 1164.3,669.5 1164.7,645.2 1165.2,706.8 1165.6,674.6 1166.1,713.9 1166.5,693.8 1167.0,723.0 1167.4,685.2 1167.9,724.7 1168.3,714.6 1168.8,715.1 1169.2,737.3 1169.7,700.0 1170.1,700.4 1170.6,708.3 1171.0,748.5 1171.5,713.1 1171.9,741.5 1172.4,727.8 1172.8,721.5 1173.3,712.8 1173.7,730.0 1174.2,740.3 1174.6,709.9 1175.1,762.9 1175.5,720.2 1176.0,737.3 1176.4,731.7 1176.9,767.0 1177.3,737.8 1177.8,755.1 1178.2,772.5 1178.7,749.6 1179.1,787.9 1179.6,755.4 1180.0,759.7 1180.5,778.8 1180.9,753.6 1181.4,758.8 1181.8,788.0 1182.2,747.1 1182.7,735.1 1183.1,788.9 1183.6,756.8 1184.0,752.5 1184.5,807.1 1184.9,779.1 1185.4,758.8 1185.8,800.2 1186.3,785.4 1186.7,742.4 1187.2,788.9 1187.6,767.1 1188.1,800.4 1188.5,747.7 1189.0,743.5 1189.4,761.7 1189.9,779.0 1190.3,795.6 1190.8,740.3 1191.2,801.1 1191.7,774.5 1192.1,817.5 1192.6,794.2 1193.0,790.3 1193.5,785.7 1193.9,776.5 1194.4,766.2 1194.8,757.8 1195.3,731.7 1195.7,801.5 1196.2,763.3 1196.6,768.8 1197.1,735.9 1197.5,767.5 1198.0,755.6 1198.4,769.3 1198.9,724.3 1199.3,764.1 1199.8,721.5 1200.2,773.4 1200.7,759.8 1201.1,727.7 1201.6,786.7 1202.0,719.1 1202.5,718.8 1202.9,745.7 1203.4,730.0 1203.8,771.3 1204.3,708.9 1204.7,736.4 1205.2,739.1 1205.6,695.7 1206.1,747.6 1206.5,709.2 1207.0,664.9 1207.4,690.4 1207.9,685.6 1208.3,711.9 1208.8,730.9 1209.2,689.4 1209.7,696.9 1210.1,668.3 1210.6,675.2 1211.0,675.8 1211.5,653.6 1211.9,688.2 1212.4,658.5 1212.8,624.8 1213.3,630.2 1213.7,662.6 1214.2,613.2 1214.6,664.7 1215.1,594.6 1215.5,634.0 1216.0,578.7 1216.4,570.3 1216.9,593.7 1217.3,613.6 1217.8,547.1 1218.2,557.5 1218.7,533.0 1219.1,547.6 1219.6,506.4 1220.0,491.8 1220.5,481.9 1220.9,460.9 1221.4,459.6 1221.8,467.6 1222.3,421.8 1222.7,433.5 1223.2,396.4 1223.6,360.9 1224.1,353.7 1224.5,327.9 1225.0,298.6 1225.4,284.8 1225.9,283.2 1226.3,283.7 1226.8,301.1 1227.2,320.6 1227.7,348.6 1228.1,381.2 1228.6,415.5 1229.0,426.8 1229.5,437.4 1229.9,446.2 1230.4,491.0 1230.8,487.8 1231.3,510.1 1231.7,510.5 1232.2,553.2 1232.6,560.7 1233.1,545.5 1233.5,613.8 1234.0,561.9 1234.4,624.9 1234.9,577.1 1235.3,616.3 1235.8,602.1 1236.2,586.1 1236.7,615.0 1237.1,602.1 1237.6,634.4 1238.0,619.1 1238.5,590.2 1238.9,622.9 1239.4,617.0 1239.8,579.4 1240.3,579.8 1240.7,553.1 1241.2,542.0 1241.6,513.1 1242.1,498.8 1242.5,488.5 1242.7,487.0 1243.0,488.2 1243.4,503.2 1243.9,521.7 1244.3,545.8 1244.8,576.3 1245.2,589.1 1245.7,597.6 1246.1,616.1 1246.6,633.0 1247.0,662.0 1247.5,661.7 1247.9,687.8 1248.4,699.0 1248.8,683.6 1249.3,688.8 1249.7,742.0 1250.2,692.2 1250.6,691.6 1251.1,737.1 1251.5,759.9 1252.0,718.8 1252.4,713.2 1252.9,749.4 1253.3,733.9 1253.8,755.6 1254.2,735.4 1254.7,772.8 1255.1,728.5 1255.6,776.2 1256.0,732.7 1256.5,724.1 1256.9,742.8 1257.4,708.6 1257.8,751.1 1258.3,697.9 1258.7,693.2 1259.2,736.2 1259.6,734.1 1260.1,698.7 1260.5,697.3 1261.0,712.2 1261.4,740.7 1261.9,717.9 1262.3,701.0 1262.8,730.3 1263.2,709.9 1263.7,736.0 1264.1,710.5 1264.6,746.2 1265.0,712.1 1265.5,731.3 1265.9,733.9 1266.4,745.7 1266.8,694.6 1267.3,691.7 1267.7,733.6 1268.2,751.4 1268.6,694.5 1269.1,752.2 1269.5,721.4 1270.0,700.4 1270.4,715.1 1270.9,699.1 1271.3,719.8 1271.8,709.3 1272.2,686.5 1272.7,656.8 1273.1,642.2 1273.6,622.0 1274.0,579.4 1274.5,555.2 1274.9,540.6 1275.4,553.2 1275.8,586.6 1276.3,601.8 1276.7,643.6 1277.2,651.3 1277.6,685.3 1278.1,678.8 1278.5,712.7 1279.0,672.4 1279.4,733.5 1279.9,702.3 1280.3,701.1 1280.8,743.5 1281.2,700.8 1281.7,703.8 1282.1,712.1 1282.6,679.5 1283.0,709.6 1283.5,724.7 1283.9,690.0 1284.4,686.5 1284.8,678.9 1285.3,703.3 1285.7,677.2 1286.1,675.8 1286.6,735.7 1287.0,696.2 1287.5,744.6 1287.9,687.1 1288.4,707.1 1288.8,762.9 1289.3,702.3 1289.7,724.0 1290.2,702.7 1290.6,696.3 1291.1,700.9 1291.5,697.5 1292.0,621.4 1292.4,667.2 1292.9,669.2 1293.3,687.3 1293.8,620.5 1294.2,617.8 1294.7,604.9 1295.1,639.4 1295.6,658.3 1296.0,596.3 1296.5,570.0 1296.9,565.6 1297.4,574.0 1297.8,561.4 1298.3,569.5 1298.7,523.4 1299.2,503.5 1299.6,500.2 1300.1,484.6 1300.5,456.6 1301.0,411.8 1301.4,390.1 1301.9,352.2 1302.3,331.4 1302.8,317.7 1303.2,329.8 1303.7,354.1 1304.1,387.6 1304.6,432.2 1305.0,433.6 1305.5,476.9 1305.9,485.0 1306.4,510.6 1306.8,547.0 1307.3,542.5 1307.7,533.9 1308.2,554.2 1308.6,601.2 1309.1,570.9 1309.5,609.8 1310.0,558.0 1310.4,569.5 1310.9,591.2 1311.3,593.1 1311.8,558.1 1312.2,570.5 1312.7,543.5 1313.1,536.0 1313.6,521.2 1314.0,500.1 1314.5,471.7 1314.9,444.3 1315.4,426.3 1315.9,418.9 1316.3,427.1 1316.7,439.9 1317.2,462.5 1317.6,490.6 1318.1,500.0 1318.5,537.2 1319.0,550.3 1319.4,582.9 1319.9,604.5 1320.3,636.4 1320.8,598.1 1321.2,610.4 1321.7,628.3 1322.1,664.4 1322.6,647.9 1323.0,645.9 1323.5,668.5 1323.9,674.2 1324.4,680.8 1324.8,693.4 1325.3,735.1 1325.7,735.5 1326.2,706.4 1326.6,691.0 1327.1,738.1 1327.5,740.3 1328.0,739.4 1328.4,755.7 1328.9,744.2 1329.3,709.0 1329.8,765.3 1330.2,752.5 1330.7,758.4 1331.1,750.5 1331.6,749.4 1332.0,773.1 1332.5,721.9 1332.9,712.8 1333.4,778.0 1333.8,771.1 1334.3,750.0 1334.7,745.9 1335.2,736.4 1335.6,786.4 1336.1,749.1 1336.5,708.6 1337.0,755.2 1337.4,703.0 1337.9,728.6 1338.3,723.3 1338.8,711.8 1339.2,684.5 1339.7,633.2 1340.1,596.1 1340.3,589.8 1340.6,601.9 1341.0,644.4 1341.5,680.4 1341.9,709.8 1342.4,724.5 1342.8,721.9 1343.3,758.7 1343.7,737.7 1344.2,728.4 1344.6,719.4 1345.1,729.8 1345.5,776.9 1346.0,721.1 1346.4,749.4 1346.9,767.4 1347.3,699.9 1347.8,712.0 1348.2,736.3 1348.7,740.6 1349.1,709.1 1349.6,707.3 1350.0,727.1 1350.5,740.2 1350.9,726.1 1351.4,732.9 1351.8,752.1 1352.3,748.8 1352.7,760.3 1353.2,733.0 1353.6,721.4 1354.1,708.0 1354.5,712.4 1355.0,696.5 1355.4,757.1 1355.9,740.9 1356.3,733.1 1356.8,695.7 1357.2,757.3 1357.7,734.0 1358.1,727.0 1358.6,719.0 1359.0,692.4 1359.5,768.3 1359.9,707.7 1360.4,691.9 1360.8,705.4 1361.3,714.3 1361.7,698.0 1362.2,715.5 1362.6,752.5 1363.1,732.3 1363.5,727.8 1364.0,713.9 1364.4,707.2 1364.9,677.0 1365.3,725.9 1365.8,727.8 1366.2,643.5 1366.7,662.7 1367.1,656.1 1367.6,624.9 1368.0,618.6 1368.5,639.6 1368.9,647.7 1369.4,603.6 1369.8,599.4 1370.3,583.8 1370.7,537.3 1371.2,523.8 1371.6,506.0 1372.1,478.0 1372.5,442.3 1373.0,410.3 1373.4,381.0 1373.9,367.4 1374.3,373.6 1374.8,399.0 1375.2,429.7 1375.7,468.8 1376.1,473.2 1376.6,515.8 1377.0,518.3 1377.5,536.7 1377.9,540.4 1378.4,580.6 1378.8,598.9 1379.3,562.6 1379.7,558.0 1380.2,559.3 1380.6,544.9 1381.1,517.8 1381.5,507.8 1382.0,479.2 1382.4,442.9 1382.9,426.5 1383.3,392.3 1383.8,375.4 1383.9,372.5 1384.2,379.8 1384.7,397.9 1385.1,428.2 1385.6,459.1 1386.0,485.3 1386.5,507.4 1386.9,555.1 1387.4,537.3 1387.8,577.7 1388.3,597.8 1388.7,617.3 1389.2,631.6 1389.6,622.9 1390.0,672.9 1390.5,639.6 1390.9,641.0 1391.4,643.7 1391.8,699.7 1392.3,632.1 1392.7,692.6 1393.2,685.5 1393.6,652.1 1394.1,658.3 1394.5,646.5 1395.0,690.4 1395.4,645.9 1395.9,649.3 1396.3,686.7 1396.8,669.1 1397.2,660.5 1397.7,662.6 1398.1,657.6 1398.6,619.3 1399.0,615.6 1399.5,562.6 1399.9,588.8 1400.4,520.6 1400.8,494.5 1401.3,471.6 1401.7,440.1 1402.2,418.2 1402.6,379.9 1403.1,368.0 1403.5,379.7 1404.0,419.4 1404.4,453.7 1404.9,467.8 1405.3,523.6 1405.8,534.7 1406.2,553.9 1406.7,568.5 1407.1,562.3 1407.6,587.5 1408.0,609.7 1408.5,619.5 1408.9,616.9 1409.4,612.4 1409.8,630.0 1410.3,661.3 1410.7,646.9 1411.2,675.1 1411.6,657.8 1412.1,646.1 1412.5,649.2 1413.0,669.2 1413.4,672.1 1413.9,698.0 1414.3,665.4 1414.8,726.4 1415.2,688.7 1415.7,718.9 1416.1,732.5 1416.6,697.7 1417.0,727.3 1417.5,672.5 1417.9,733.0 1418.4,665.4 1418.8,670.6 1419.3,692.9 1419.7,725.5 1420.2,709.5 1420.6,713.1 1421.1,699.7 1421.5,702.0 1422.0,720.0 1422.4,737.3 1422.9,726.7 1423.3,699.1 1423.8,685.6 1424.2,672.9 1424.7,684.2 1425.1,682.7 1425.6,657.2 1426.0,634.6 1426.5,593.1 1426.9,571.2 1427.4,539.6 1427.7,532.1 1427.8,533.5 1428.3,556.7 1428.7,589.9 1429.2,620.8 1429.6,657.7 1430.1,661.0"/>
</g>
<rect x="385.5" y="85.5" width="616" height="336" fill="#ffffff" stroke="#262626" stroke-width="3"/>
<line x1="395" y1="144.5" x2="503" y2="144.5" stroke="#000000" stroke-width="5"/>
<text y="177.4" font-size="96" fill="#000000"><tspan x="534" font-style="italic">z </tspan><tspan x="593.2" textLength="88.69" lengthAdjust="spacingAndGlyphs">= </tspan><tspan x="675.6" textLength="164.30" lengthAdjust="spacingAndGlyphs">100 </tspan><tspan x="840.3">mm</tspan></text>
<line x1="395" y1="253.5" x2="503" y2="253.5" stroke="#00bfbf" stroke-width="5"/>
<text y="286.6" font-size="96" fill="#000000"><tspan x="534" font-style="italic">z </tspan><tspan x="593.2" textLength="88.69" lengthAdjust="spacingAndGlyphs">= </tspan><tspan x="675.6" textLength="164.30" lengthAdjust="spacingAndGlyphs">165 </tspan><tspan x="840.3">mm</tspan></text>
<line x1="395" y1="362.5" x2="503" y2="362.5" stroke="#bf00bf" stroke-width="5"/>
<text y="397.4" font-size="96" fill="#000000"><tspan x="534" font-style="italic">z </tspan><tspan x="593.2" textLength="88.69" lengthAdjust="spacingAndGlyphs">= </tspan><tspan x="675.6" textLength="117.36" lengthAdjust="spacingAndGlyphs">10 </tspan><tspan x="792.3">mm</tspan></text>
<text x="329.4" y="102.3" font-size="110" fill="#262626" stroke="#262626" stroke-width="1.3" text-anchor="end">0</text>
<text y="448.3" font-size="110" fill="#262626" stroke="#262626" stroke-width="1.3"><tspan x="139.8" dy="7.2" stroke="none" textLength="80.65" lengthAdjust="spacingAndGlyphs">−</tspan><tspan x="329.4" dy="-7.2" text-anchor="end">20</tspan></text>
<text y="794.3" font-size="110" fill="#262626" stroke="#262626" stroke-width="1.3"><tspan x="139.8" dy="7.2" stroke="none" textLength="80.65" lengthAdjust="spacingAndGlyphs">−</tspan><tspan x="329.4" dy="-7.2" text-anchor="end">40</tspan></text>
<text y="1140.3" font-size="110" fill="#262626" stroke="#262626" stroke-width="1.3"><tspan x="139.8" dy="7.2" stroke="none" textLength="80.65" lengthAdjust="spacingAndGlyphs">−</tspan><tspan x="329.4" dy="-7.2" text-anchor="end">60</tspan></text>
<text y="1249.3" font-size="110" fill="#262626" stroke="#262626" stroke-width="1.3"><tspan x="280.3">10</tspan><tspan x="386.8" y="1209.2" font-size="78" stroke-width="1">3</tspan></text>
<text y="1249.3" font-size="110" fill="#262626" stroke="#262626" stroke-width="1.3"><tspan x="1354.4">10</tspan><tspan x="1462.5" y="1209.2" font-size="78" stroke-width="1">4</tspan></text>
<text x="523.4" y="1397" font-size="117" fill="#262626">Frequency [Hz]</text>
<text transform="translate(105,663) rotate(-90)" font-size="117" fill="#262626">dB</text>
</svg></body></html>
